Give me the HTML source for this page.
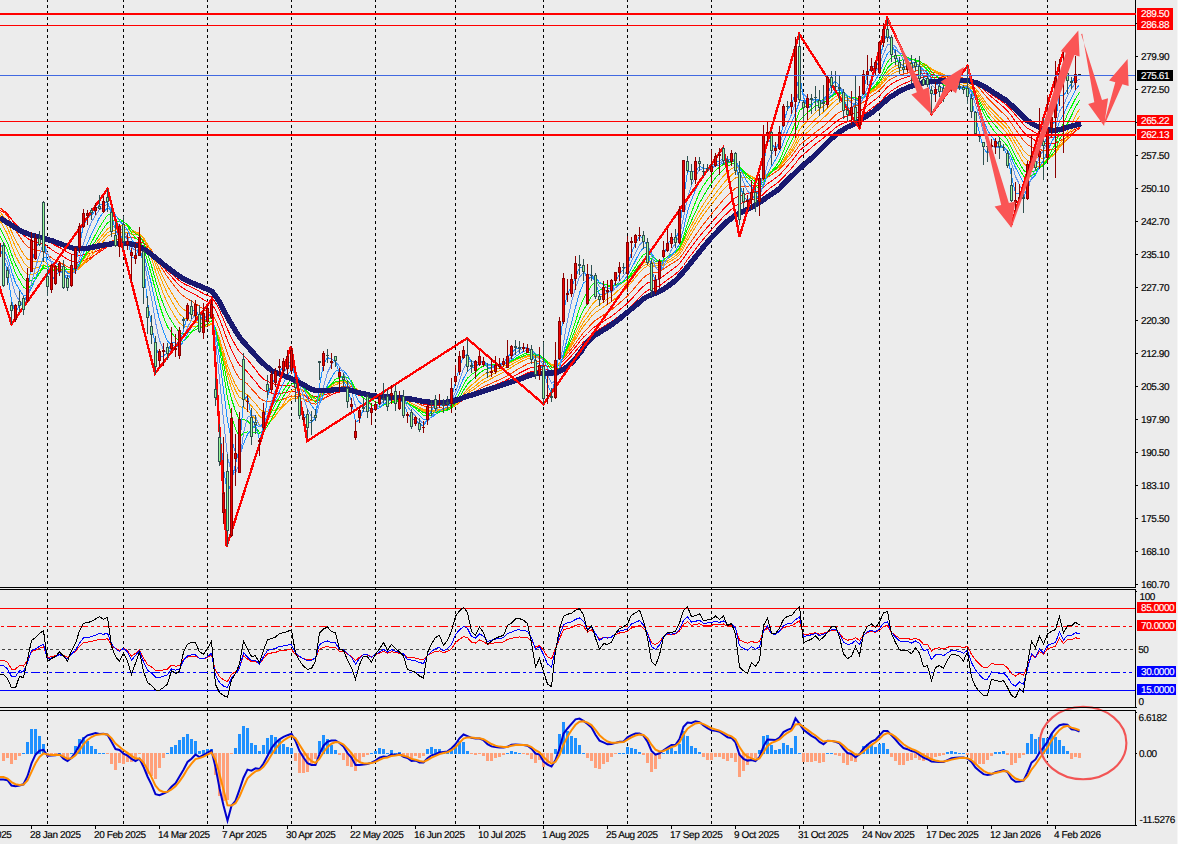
<!DOCTYPE html>
<html><head><meta charset="utf-8"><title>chart</title>
<style>
html,body{margin:0;padding:0;background:#ececec;}
body{width:1178px;height:844px;overflow:hidden;font-family:"Liberation Sans",sans-serif;}
svg{display:block;}
svg .nv{shape-rendering:crispEdges;}
svg text{font-family:"Liberation Sans",sans-serif;font-size:10px;letter-spacing:-0.42px;text-rendering:geometricPrecision;stroke-width:0.15px;}
</style></head><body>
<svg width="1178" height="844" viewBox="0 0 1178 844">
<defs>
<clipPath id="cm"><rect x="0" y="0" width="1135" height="587"/></clipPath>
<clipPath id="cr"><rect x="0" y="590" width="1135" height="117"/></clipPath>
<clipPath id="cd"><rect x="0" y="711" width="1135" height="114"/></clipPath>
</defs>
<rect x="0" y="0" width="1178" height="844" fill="#ececec"/>
<line x1="47.5" y1="-1" x2="47.5" y2="825" stroke="#000" stroke-width="1" stroke-dasharray="3 3" shape-rendering="crispEdges"/>
<line x1="123.5" y1="-1" x2="123.5" y2="825" stroke="#000" stroke-width="1" stroke-dasharray="3 3" shape-rendering="crispEdges"/>
<line x1="207.5" y1="-1" x2="207.5" y2="825" stroke="#000" stroke-width="1" stroke-dasharray="3 3" shape-rendering="crispEdges"/>
<line x1="291.5" y1="-1" x2="291.5" y2="825" stroke="#000" stroke-width="1" stroke-dasharray="3 3" shape-rendering="crispEdges"/>
<line x1="375.5" y1="-1" x2="375.5" y2="825" stroke="#000" stroke-width="1" stroke-dasharray="3 3" shape-rendering="crispEdges"/>
<line x1="455.5" y1="-1" x2="455.5" y2="825" stroke="#000" stroke-width="1" stroke-dasharray="3 3" shape-rendering="crispEdges"/>
<line x1="543.5" y1="-1" x2="543.5" y2="825" stroke="#000" stroke-width="1" stroke-dasharray="3 3" shape-rendering="crispEdges"/>
<line x1="627.5" y1="-1" x2="627.5" y2="825" stroke="#000" stroke-width="1" stroke-dasharray="3 3" shape-rendering="crispEdges"/>
<line x1="711.5" y1="-1" x2="711.5" y2="825" stroke="#000" stroke-width="1" stroke-dasharray="3 3" shape-rendering="crispEdges"/>
<line x1="803.5" y1="-1" x2="803.5" y2="825" stroke="#000" stroke-width="1" stroke-dasharray="3 3" shape-rendering="crispEdges"/>
<line x1="879.5" y1="-1" x2="879.5" y2="825" stroke="#000" stroke-width="1" stroke-dasharray="3 3" shape-rendering="crispEdges"/>
<line x1="967.5" y1="-1" x2="967.5" y2="825" stroke="#000" stroke-width="1" stroke-dasharray="3 3" shape-rendering="crispEdges"/>
<line x1="1047.5" y1="-1" x2="1047.5" y2="825" stroke="#000" stroke-width="1" stroke-dasharray="3 3" shape-rendering="crispEdges"/>
<g clip-path="url(#cm)">
<g shape-rendering="crispEdges">
<polyline points="-0.5,210.2 3.5,212.2 7.5,214.8 11.5,219.2 15.5,223.5 19.5,227.3 23.5,231.2 27.5,234.1 31.5,235.5 35.5,236.6 39.5,237.3 43.5,237.7 47.5,240.6 51.5,243.2 55.5,245.5 59.5,247.5 63.5,249.7 67.5,252.3 71.5,254.2 75.5,255.5 79.5,255.6 83.5,254.8 87.5,254.0 91.5,252.9 95.5,251.5 99.5,249.8 103.5,248.2 107.5,246.4 111.5,245.5 115.5,245.1 119.5,245.0 123.5,244.4 127.5,244.1 131.5,244.9 135.5,245.1 139.5,244.6 143.5,245.9 147.5,248.8 151.5,252.4 155.5,257.0 159.5,261.7 163.5,266.2 167.5,270.3 171.5,273.7 175.5,277.4 179.5,280.9 183.5,283.5 187.5,285.5 191.5,287.3 195.5,289.2 199.5,291.4 203.5,293.6 207.5,295.5 211.5,297.0 215.5,302.4 219.5,310.2 223.5,319.4 227.5,329.4 231.5,337.8 235.5,345.3 239.5,351.8 243.5,355.2 247.5,359.4 251.5,364.6 255.5,369.4 259.5,375.1 263.5,379.0 267.5,381.2 271.5,383.0 275.5,384.4 279.5,385.2 283.5,385.7 287.5,385.9 291.5,385.8 295.5,387.1 299.5,388.9 303.5,391.0 307.5,393.3 311.5,395.4 315.5,397.0 319.5,396.4 323.5,395.3 327.5,393.9 331.5,392.8 335.5,391.7 339.5,391.5 343.5,391.3 347.5,391.6 351.5,392.4 355.5,394.3 359.5,395.3 363.5,395.7 367.5,396.1 371.5,396.7 375.5,396.8 379.5,396.6 383.5,396.0 387.5,395.8 391.5,395.4 395.5,395.3 399.5,395.5 403.5,395.8 407.5,396.9 411.5,398.0 415.5,399.2 419.5,400.5 423.5,402.0 427.5,402.8 431.5,403.4 435.5,403.7 439.5,403.9 443.5,404.3 447.5,404.5 451.5,404.3 455.5,403.1 459.5,401.3 463.5,399.1 467.5,397.0 471.5,395.5 475.5,394.3 479.5,392.6 483.5,391.1 487.5,390.0 491.5,388.8 495.5,387.5 499.5,386.0 503.5,384.6 507.5,382.7 511.5,380.8 515.5,378.7 519.5,376.7 523.5,374.7 527.5,372.9 531.5,371.5 535.5,370.7 539.5,369.7 543.5,369.4 547.5,369.8 551.5,370.5 555.5,370.0 559.5,368.0 563.5,364.2 567.5,360.1 571.5,355.9 575.5,351.3 579.5,346.5 583.5,342.1 587.5,338.5 591.5,334.6 595.5,331.4 599.5,329.1 603.5,326.5 607.5,324.0 611.5,321.6 615.5,318.7 619.5,315.7 623.5,312.6 627.5,309.4 631.5,305.6 635.5,301.5 639.5,297.3 643.5,293.5 647.5,290.4 651.5,288.7 655.5,287.4 659.5,285.7 663.5,282.9 667.5,279.8 671.5,276.9 675.5,274.0 679.5,270.6 683.5,265.5 687.5,259.6 691.5,254.4 695.5,249.1 699.5,243.8 703.5,239.0 707.5,234.3 711.5,229.8 715.5,225.2 719.5,221.0 723.5,216.7 727.5,212.9 731.5,209.2 735.5,205.8 739.5,204.0 743.5,202.5 747.5,201.3 751.5,199.8 755.5,198.6 759.5,197.4 763.5,194.2 767.5,190.2 771.5,187.1 775.5,184.3 779.5,181.1 783.5,177.0 787.5,172.6 791.5,168.3 795.5,163.4 799.5,157.8 803.5,154.5 807.5,151.0 811.5,147.6 815.5,144.1 819.5,141.0 823.5,137.9 827.5,134.7 831.5,131.2 835.5,127.8 839.5,125.0 843.5,123.1 847.5,121.6 851.5,120.1 855.5,118.3 859.5,117.0 863.5,114.5 867.5,111.5 871.5,108.4 875.5,105.6 879.5,102.4 883.5,98.2 887.5,94.0 891.5,90.8 895.5,88.1 899.5,85.9 903.5,83.9 907.5,82.1 911.5,80.5 915.5,78.8 919.5,77.5 923.5,77.0 927.5,76.5 931.5,77.1 935.5,77.3 939.5,77.5 943.5,77.9 947.5,78.1 951.5,78.2 955.5,78.4 959.5,78.6 963.5,78.9 967.5,79.1 971.5,80.2 975.5,82.2 979.5,84.8 983.5,88.2 987.5,91.5 991.5,94.2 995.5,97.1 999.5,99.9 1003.5,102.6 1007.5,105.8 1011.5,110.2 1015.5,115.1 1019.5,119.6 1023.5,124.5 1027.5,128.2 1031.5,130.4 1035.5,132.9 1039.5,134.4 1043.5,136.2 1047.5,137.0 1051.5,137.4 1055.5,137.6 1059.5,135.9 1063.5,135.1 1067.5,133.3 1071.5,131.5 1075.5,129.2 1079.5,127.1" fill="none" stroke="#ff0000" stroke-width="1" shape-rendering="crispEdges"/>
<polyline points="-0.5,207.4 3.5,210.3 7.5,213.9 11.5,219.6 15.5,225.1 19.5,229.9 23.5,234.9 27.5,238.6 31.5,240.4 35.5,241.9 39.5,242.8 43.5,243.3 47.5,246.5 51.5,249.5 55.5,252.1 59.5,254.2 63.5,256.6 67.5,259.2 71.5,261.0 75.5,262.2 79.5,261.9 83.5,260.5 87.5,259.0 91.5,257.1 95.5,254.8 99.5,252.2 103.5,249.6 107.5,246.7 111.5,245.1 115.5,244.1 119.5,243.4 123.5,242.3 127.5,241.7 131.5,242.4 135.5,242.4 139.5,241.8 143.5,243.1 147.5,246.5 151.5,250.7 155.5,256.2 159.5,261.9 163.5,267.3 167.5,272.4 171.5,276.7 175.5,281.2 179.5,285.5 183.5,288.5 187.5,290.7 191.5,292.8 195.5,294.8 199.5,297.2 203.5,299.7 207.5,301.9 211.5,303.6 215.5,309.8 219.5,318.8 223.5,329.4 227.5,340.7 231.5,350.0 235.5,358.2 239.5,365.1 243.5,368.1 247.5,372.1 251.5,377.0 255.5,381.6 259.5,387.0 263.5,390.5 267.5,392.0 271.5,393.0 275.5,393.6 279.5,393.5 283.5,393.0 287.5,392.2 291.5,391.3 295.5,391.9 299.5,393.3 303.5,395.3 307.5,397.5 311.5,399.6 315.5,401.1 319.5,400.1 323.5,398.5 327.5,396.5 331.5,394.8 335.5,393.0 339.5,392.1 343.5,391.2 347.5,390.9 351.5,391.2 355.5,392.6 359.5,393.2 363.5,393.2 367.5,393.4 371.5,394.3 375.5,394.7 379.5,394.9 383.5,394.8 387.5,395.1 391.5,395.0 395.5,395.2 399.5,395.6 403.5,396.3 407.5,397.7 411.5,399.2 415.5,400.7 419.5,402.4 423.5,404.1 427.5,405.0 431.5,405.4 435.5,405.5 439.5,405.5 443.5,405.7 447.5,405.8 451.5,405.5 455.5,404.2 459.5,402.2 463.5,399.7 467.5,397.3 471.5,395.5 475.5,393.9 479.5,391.7 483.5,389.7 487.5,388.2 491.5,386.6 495.5,384.9 499.5,383.2 503.5,381.6 507.5,379.5 511.5,377.4 515.5,375.2 519.5,373.0 523.5,371.0 527.5,369.0 531.5,367.5 535.5,366.7 539.5,365.8 543.5,365.5 547.5,366.2 551.5,367.2 555.5,366.8 559.5,364.8 563.5,360.7 567.5,356.4 571.5,351.9 575.5,347.0 579.5,341.8 583.5,337.2 587.5,333.5 591.5,329.4 595.5,326.2 599.5,323.9 603.5,321.3 607.5,318.8 611.5,316.3 615.5,313.3 619.5,310.0 623.5,306.6 627.5,303.2 631.5,299.0 635.5,294.7 639.5,290.1 643.5,286.2 647.5,283.0 651.5,281.5 655.5,280.4 659.5,278.9 663.5,276.1 667.5,273.0 671.5,270.0 675.5,267.1 679.5,263.7 683.5,258.3 687.5,252.1 691.5,246.8 695.5,241.5 699.5,236.3 703.5,231.6 707.5,227.0 711.5,222.6 715.5,217.9 719.5,213.6 723.5,209.1 727.5,205.0 731.5,201.0 735.5,197.5 739.5,195.8 743.5,194.5 747.5,193.7 751.5,192.5 755.5,191.8 759.5,190.9 763.5,187.8 767.5,183.8 771.5,180.9 775.5,178.1 779.5,174.9 783.5,170.7 787.5,166.0 791.5,161.5 795.5,156.4 799.5,150.5 803.5,147.3 807.5,144.1 811.5,141.0 815.5,137.7 819.5,134.9 823.5,132.1 827.5,129.0 831.5,125.5 835.5,122.1 839.5,119.2 843.5,117.4 847.5,115.9 851.5,114.5 855.5,112.7 859.5,111.4 863.5,108.8 867.5,105.6 871.5,102.3 875.5,99.3 879.5,95.9 883.5,91.5 887.5,87.0 891.5,83.9 895.5,81.5 899.5,79.7 903.5,78.2 907.5,76.8 911.5,75.7 915.5,74.5 919.5,73.6 923.5,73.5 927.5,73.4 931.5,74.5 935.5,75.1 939.5,75.6 943.5,76.3 947.5,76.7 951.5,77.0 955.5,77.3 959.5,77.7 963.5,78.2 967.5,78.6 971.5,80.1 975.5,82.5 979.5,85.7 983.5,89.7 987.5,93.6 991.5,96.9 995.5,100.2 999.5,103.6 1003.5,107.0 1007.5,110.8 1011.5,115.9 1015.5,121.5 1019.5,126.7 1023.5,132.1 1027.5,136.1 1031.5,138.2 1035.5,140.6 1039.5,141.7 1043.5,143.3 1047.5,143.7 1051.5,143.6 1055.5,143.2 1059.5,140.7 1063.5,139.3 1067.5,136.8 1071.5,134.2 1075.5,131.1 1079.5,128.2" fill="none" stroke="#ff0000" stroke-width="1" shape-rendering="crispEdges"/>
<polyline points="-0.5,207.4 3.5,211.5 7.5,216.3 11.5,223.4 15.5,230.4 19.5,236.3 23.5,242.3 27.5,246.7 31.5,248.7 35.5,250.2 39.5,251.0 43.5,251.3 47.5,254.8 51.5,257.8 55.5,260.4 59.5,262.4 63.5,264.5 67.5,266.8 71.5,268.0 75.5,268.4 79.5,267.0 83.5,264.2 87.5,261.3 91.5,258.2 95.5,254.8 99.5,250.9 103.5,247.3 107.5,243.4 111.5,241.2 115.5,239.8 119.5,238.8 123.5,237.5 127.5,236.8 131.5,237.8 135.5,238.1 139.5,237.8 143.5,240.0 147.5,244.7 151.5,250.3 155.5,257.3 159.5,264.3 163.5,270.8 167.5,277.0 171.5,282.0 175.5,287.4 179.5,292.5 183.5,296.1 187.5,298.8 191.5,301.3 195.5,303.7 199.5,306.5 203.5,309.2 207.5,311.4 211.5,312.9 215.5,319.6 219.5,329.5 223.5,341.2 227.5,353.5 231.5,363.3 235.5,371.8 239.5,378.6 243.5,380.7 247.5,384.1 251.5,388.8 255.5,392.9 259.5,398.0 263.5,400.8 267.5,401.3 271.5,401.3 275.5,401.1 279.5,400.1 283.5,399.0 287.5,397.6 291.5,396.0 295.5,396.4 299.5,397.6 303.5,399.4 307.5,401.5 311.5,403.2 315.5,404.2 319.5,402.0 323.5,399.0 327.5,395.6 331.5,392.4 335.5,389.4 339.5,387.7 343.5,386.3 347.5,386.1 351.5,386.8 355.5,389.3 359.5,390.9 363.5,391.6 367.5,392.5 371.5,393.9 375.5,394.7 379.5,395.4 383.5,395.5 387.5,396.1 391.5,396.3 395.5,396.7 399.5,397.2 403.5,397.9 407.5,399.4 411.5,400.8 415.5,402.3 419.5,404.1 423.5,405.9 427.5,406.9 431.5,407.5 435.5,407.7 439.5,407.8 443.5,408.1 447.5,408.1 451.5,407.5 455.5,405.5 459.5,402.6 463.5,399.1 467.5,395.9 471.5,393.6 475.5,391.6 479.5,388.9 483.5,386.7 487.5,385.0 491.5,383.3 495.5,381.5 499.5,379.7 503.5,377.9 507.5,375.6 511.5,373.2 515.5,370.7 519.5,368.2 523.5,366.0 527.5,363.9 531.5,362.4 535.5,361.9 539.5,361.2 543.5,361.4 547.5,362.8 551.5,364.6 555.5,364.7 559.5,362.9 563.5,358.4 567.5,353.7 571.5,348.9 575.5,343.5 579.5,337.7 583.5,332.5 587.5,328.5 591.5,323.8 595.5,320.3 599.5,317.8 603.5,315.0 607.5,312.3 611.5,309.7 615.5,306.5 619.5,303.0 623.5,299.6 627.5,296.0 631.5,291.5 635.5,286.8 639.5,281.9 643.5,277.7 647.5,274.5 651.5,273.2 655.5,272.6 659.5,271.5 663.5,269.0 667.5,266.2 671.5,263.8 675.5,261.5 679.5,258.5 683.5,253.2 687.5,246.6 691.5,241.0 695.5,235.4 699.5,229.5 703.5,224.3 707.5,219.2 711.5,214.2 715.5,209.1 719.5,204.4 723.5,199.7 727.5,195.6 731.5,191.6 735.5,188.2 739.5,187.0 743.5,186.4 747.5,186.2 751.5,185.5 755.5,185.3 759.5,184.9 763.5,181.8 767.5,177.5 771.5,174.6 775.5,172.1 779.5,169.2 783.5,165.0 787.5,160.5 791.5,156.2 795.5,151.0 799.5,144.9 803.5,141.9 807.5,138.8 811.5,135.6 815.5,132.2 819.5,129.3 823.5,126.2 827.5,122.7 831.5,118.9 835.5,115.1 839.5,112.1 843.5,110.2 847.5,108.8 851.5,107.4 855.5,105.6 859.5,104.5 863.5,102.0 867.5,99.0 871.5,95.8 875.5,93.2 879.5,90.2 883.5,85.9 887.5,81.5 891.5,78.7 895.5,76.6 899.5,75.2 903.5,74.0 907.5,73.0 911.5,72.1 915.5,71.1 919.5,70.3 923.5,70.4 927.5,70.5 931.5,72.0 935.5,72.9 939.5,73.8 943.5,74.9 947.5,75.7 951.5,76.2 955.5,76.8 959.5,77.4 963.5,78.2 967.5,78.8 971.5,80.9 975.5,84.1 979.5,88.2 983.5,93.3 987.5,98.1 991.5,102.1 995.5,106.1 999.5,110.0 1003.5,113.7 1007.5,117.8 1011.5,123.4 1015.5,129.5 1019.5,134.9 1023.5,140.8 1027.5,144.8 1031.5,146.6 1035.5,148.8 1039.5,149.4 1043.5,150.6 1047.5,150.4 1051.5,149.6 1055.5,148.6 1059.5,145.0 1063.5,142.7 1067.5,139.2 1071.5,135.6 1075.5,131.4 1079.5,127.3" fill="none" stroke="#ff4500" stroke-width="1" shape-rendering="crispEdges"/>
<polyline points="-0.5,211.1 3.5,216.5 7.5,222.6 11.5,231.5 15.5,240.1 19.5,247.2 23.5,254.1 27.5,259.0 31.5,260.8 35.5,261.9 39.5,261.9 43.5,261.0 47.5,264.1 51.5,266.4 55.5,268.0 59.5,268.8 63.5,269.9 67.5,271.5 71.5,271.8 75.5,271.1 79.5,268.4 83.5,264.0 87.5,259.8 91.5,255.4 95.5,250.6 99.5,245.6 103.5,241.0 107.5,236.4 111.5,234.0 115.5,233.0 119.5,232.7 123.5,232.0 127.5,232.0 131.5,234.0 135.5,235.0 139.5,234.9 143.5,237.9 147.5,244.0 151.5,251.3 155.5,260.4 159.5,269.5 163.5,278.0 167.5,286.0 171.5,292.6 175.5,299.3 179.5,305.4 183.5,309.4 187.5,312.1 191.5,314.2 195.5,315.9 199.5,318.0 203.5,319.9 207.5,321.0 211.5,321.2 215.5,328.1 219.5,338.8 223.5,351.7 227.5,365.4 231.5,376.0 235.5,384.7 239.5,391.3 243.5,392.2 247.5,394.8 251.5,399.3 255.5,403.3 259.5,408.9 263.5,411.7 267.5,411.6 271.5,411.0 275.5,410.0 279.5,407.9 283.5,405.5 287.5,402.5 291.5,399.2 295.5,398.3 299.5,398.3 303.5,399.0 307.5,399.9 311.5,400.5 315.5,400.7 319.5,397.3 323.5,393.6 327.5,389.9 331.5,387.0 335.5,384.5 339.5,383.5 343.5,382.7 347.5,383.2 351.5,384.7 355.5,388.4 359.5,390.9 363.5,392.3 367.5,393.8 371.5,395.8 375.5,397.0 379.5,397.6 383.5,397.5 387.5,397.8 391.5,397.6 395.5,397.7 399.5,398.1 403.5,399.0 407.5,401.0 411.5,403.1 415.5,405.2 419.5,407.4 423.5,409.6 427.5,410.4 431.5,410.5 435.5,410.1 439.5,409.5 443.5,409.2 447.5,408.7 451.5,407.7 455.5,405.0 459.5,401.5 463.5,397.2 467.5,393.4 471.5,390.7 475.5,388.4 479.5,385.2 483.5,382.5 487.5,380.6 491.5,378.5 495.5,376.4 499.5,374.3 503.5,372.3 507.5,369.8 511.5,367.4 515.5,364.8 519.5,362.5 523.5,360.5 527.5,358.8 531.5,357.8 535.5,357.9 539.5,357.9 543.5,359.0 547.5,361.4 551.5,364.3 555.5,365.0 559.5,362.9 563.5,357.6 567.5,351.9 571.5,346.0 575.5,339.4 579.5,332.4 583.5,326.2 587.5,321.6 591.5,316.2 595.5,312.4 599.5,309.9 603.5,307.0 607.5,304.3 611.5,301.7 615.5,298.3 619.5,294.5 623.5,290.8 627.5,287.0 631.5,282.2 635.5,277.3 639.5,272.3 643.5,268.4 647.5,265.9 651.5,266.2 655.5,267.1 659.5,267.2 663.5,265.4 667.5,262.9 671.5,260.6 675.5,258.2 679.5,254.7 683.5,248.3 687.5,240.4 691.5,233.7 695.5,227.2 699.5,220.6 703.5,214.9 707.5,209.5 711.5,204.4 715.5,199.1 719.5,194.3 723.5,189.4 727.5,185.3 731.5,181.3 735.5,177.9 739.5,177.3 743.5,177.4 747.5,178.0 751.5,178.3 755.5,179.3 759.5,180.2 763.5,177.6 767.5,173.7 771.5,171.5 775.5,169.6 779.5,167.0 783.5,162.6 787.5,157.6 791.5,152.7 795.5,146.6 799.5,139.2 803.5,135.8 807.5,132.2 811.5,128.5 815.5,124.6 819.5,121.3 823.5,117.8 827.5,113.9 831.5,109.5 835.5,105.4 839.5,102.4 843.5,101.1 847.5,100.6 851.5,100.2 855.5,99.5 859.5,99.6 863.5,97.7 867.5,95.1 871.5,92.3 875.5,90.0 879.5,87.0 883.5,82.4 887.5,77.6 891.5,74.5 895.5,72.2 899.5,70.8 903.5,69.6 907.5,68.6 911.5,67.9 915.5,66.9 919.5,66.4 923.5,67.0 927.5,67.5 931.5,69.7 935.5,71.2 939.5,72.6 943.5,74.4 947.5,75.7 951.5,76.9 955.5,78.1 959.5,79.4 963.5,80.8 967.5,81.9 971.5,84.6 975.5,88.6 979.5,93.5 983.5,99.3 987.5,104.7 991.5,109.0 995.5,113.1 999.5,117.2 1003.5,120.9 1007.5,125.3 1011.5,131.5 1015.5,138.3 1019.5,144.2 1023.5,150.6 1027.5,154.7 1031.5,156.1 1035.5,157.9 1039.5,157.8 1043.5,158.5 1047.5,157.2 1051.5,155.3 1055.5,153.0 1059.5,147.4 1063.5,143.6 1067.5,138.1 1071.5,132.7 1075.5,126.7 1079.5,121.3" fill="none" stroke="#ff9800" stroke-width="1" shape-rendering="crispEdges"/>
<polyline points="-0.5,214.7 3.5,220.9 7.5,227.7 11.5,237.6 15.5,247.0 19.5,254.7 23.5,262.1 27.5,266.9 31.5,268.0 35.5,268.0 39.5,266.8 43.5,264.7 47.5,267.3 51.5,269.1 55.5,270.3 59.5,270.5 63.5,271.2 67.5,272.3 71.5,272.1 75.5,270.9 79.5,267.5 83.5,262.4 87.5,257.3 91.5,252.2 95.5,247.1 99.5,241.8 103.5,237.2 107.5,232.7 111.5,230.7 115.5,230.0 119.5,229.9 123.5,229.1 127.5,229.2 131.5,231.6 135.5,233.1 139.5,233.5 143.5,237.3 147.5,244.8 151.5,253.5 155.5,264.4 159.5,275.1 163.5,284.9 167.5,293.8 171.5,300.8 175.5,307.8 179.5,314.0 183.5,317.6 187.5,319.6 191.5,320.9 195.5,321.7 199.5,323.0 203.5,324.2 207.5,324.5 211.5,323.8 215.5,330.7 219.5,342.0 223.5,355.7 227.5,370.4 231.5,381.5 235.5,390.7 239.5,397.8 243.5,398.5 247.5,401.4 251.5,406.1 255.5,410.4 259.5,416.3 263.5,418.9 267.5,418.1 271.5,416.5 275.5,414.2 279.5,410.7 283.5,406.7 287.5,402.2 291.5,397.3 295.5,395.0 299.5,394.1 303.5,394.5 307.5,395.8 311.5,397.5 315.5,398.6 319.5,395.8 323.5,392.3 327.5,388.5 331.5,385.3 335.5,382.6 339.5,381.9 343.5,381.6 347.5,382.6 351.5,384.8 355.5,389.2 359.5,391.9 363.5,393.5 367.5,394.9 371.5,396.9 375.5,397.8 379.5,398.2 383.5,397.9 387.5,398.3 391.5,398.4 395.5,398.9 399.5,399.7 403.5,400.8 407.5,402.9 411.5,404.9 415.5,406.8 419.5,408.8 423.5,410.7 427.5,411.3 431.5,411.1 435.5,410.4 439.5,409.7 443.5,409.5 447.5,409.1 451.5,407.9 455.5,404.9 459.5,400.9 463.5,396.0 467.5,391.6 471.5,388.5 475.5,385.8 479.5,382.2 483.5,379.2 487.5,377.1 491.5,375.0 495.5,372.9 499.5,370.9 503.5,369.1 507.5,366.8 511.5,364.6 515.5,362.3 519.5,360.2 523.5,358.3 527.5,356.8 531.5,356.2 535.5,356.9 539.5,357.3 543.5,358.7 547.5,361.6 551.5,364.8 555.5,365.5 559.5,363.2 563.5,357.2 567.5,350.6 571.5,344.1 575.5,336.7 579.5,328.9 583.5,322.2 587.5,317.2 591.5,311.5 595.5,307.4 599.5,304.9 603.5,301.8 607.5,299.1 611.5,296.5 615.5,293.0 619.5,289.3 623.5,285.7 627.5,282.2 631.5,277.8 635.5,273.4 639.5,269.0 643.5,265.6 647.5,263.7 651.5,264.4 655.5,265.7 659.5,266.0 663.5,264.0 667.5,261.1 671.5,258.5 675.5,255.9 679.5,252.2 683.5,245.2 687.5,236.6 691.5,229.6 695.5,222.7 699.5,215.8 703.5,209.8 707.5,204.2 711.5,199.0 715.5,193.4 719.5,188.4 723.5,183.3 727.5,179.0 731.5,174.8 735.5,171.8 739.5,172.1 743.5,173.3 747.5,175.1 751.5,176.4 755.5,178.3 759.5,180.1 763.5,177.9 767.5,174.0 771.5,171.7 775.5,169.6 779.5,166.6 783.5,161.6 787.5,155.9 791.5,150.3 795.5,143.5 799.5,135.2 803.5,131.4 807.5,127.4 811.5,123.4 815.5,119.1 819.5,115.5 823.5,112.0 827.5,108.2 831.5,104.1 835.5,100.4 839.5,98.0 843.5,97.6 847.5,98.0 851.5,98.3 855.5,97.9 859.5,98.6 863.5,97.0 867.5,94.5 871.5,91.6 875.5,89.2 879.5,85.8 883.5,80.5 887.5,75.0 891.5,71.6 895.5,69.3 899.5,68.0 903.5,67.0 907.5,66.1 911.5,65.5 915.5,64.7 919.5,64.2 923.5,65.0 927.5,65.9 931.5,68.8 935.5,71.0 939.5,73.0 943.5,75.5 947.5,77.4 951.5,78.9 955.5,80.3 959.5,81.8 963.5,83.3 967.5,84.2 971.5,86.9 975.5,90.9 979.5,96.0 983.5,102.2 987.5,108.1 991.5,112.6 995.5,116.9 999.5,121.1 1003.5,124.8 1007.5,129.4 1011.5,135.9 1015.5,143.3 1019.5,149.6 1023.5,156.5 1027.5,160.7 1031.5,161.6 1035.5,163.0 1039.5,162.2 1043.5,162.1 1047.5,159.8 1051.5,156.8 1055.5,153.4 1059.5,146.4 1063.5,141.6 1067.5,135.2 1071.5,129.1 1075.5,122.3 1079.5,116.2" fill="none" stroke="#ffa500" stroke-width="1" shape-rendering="crispEdges"/>
<polyline points="-0.5,219.9 3.5,226.8 7.5,234.4 11.5,245.5 15.5,255.7 19.5,263.4 23.5,270.7 27.5,274.7 31.5,274.4 35.5,273.1 39.5,270.6 43.5,267.2 47.5,269.3 51.5,270.6 55.5,271.1 59.5,270.7 63.5,270.9 67.5,272.0 71.5,271.4 75.5,269.6 79.5,265.4 83.5,259.6 87.5,254.3 91.5,249.1 95.5,244.0 99.5,238.7 103.5,233.9 107.5,228.9 111.5,226.6 115.5,225.7 119.5,225.9 123.5,225.4 127.5,226.1 131.5,229.7 135.5,232.0 139.5,233.2 143.5,238.5 147.5,247.9 151.5,258.5 155.5,271.1 159.5,283.2 163.5,294.0 167.5,303.4 171.5,310.5 175.5,317.4 179.5,323.1 183.5,325.8 187.5,326.8 191.5,326.9 195.5,326.6 199.5,326.9 203.5,327.0 207.5,326.2 211.5,324.1 215.5,331.0 219.5,343.2 223.5,358.7 227.5,375.5 231.5,388.3 235.5,398.9 239.5,406.9 243.5,407.3 247.5,410.1 251.5,415.0 255.5,419.0 259.5,424.8 263.5,426.4 267.5,423.8 271.5,420.3 275.5,416.0 279.5,410.1 283.5,403.7 287.5,397.1 291.5,390.8 295.5,388.6 299.5,388.7 303.5,390.5 307.5,393.4 311.5,396.4 315.5,398.2 319.5,395.0 323.5,391.1 327.5,387.1 331.5,384.2 335.5,381.7 339.5,381.5 343.5,381.3 347.5,382.6 351.5,385.0 355.5,389.8 359.5,392.6 363.5,393.9 367.5,395.1 371.5,397.3 375.5,398.6 379.5,399.3 383.5,399.5 387.5,400.5 391.5,400.7 395.5,401.1 399.5,401.6 403.5,402.1 407.5,403.9 411.5,405.6 415.5,407.3 419.5,409.2 423.5,411.3 427.5,411.9 431.5,411.9 435.5,411.2 439.5,410.4 443.5,410.2 447.5,409.6 451.5,408.3 455.5,404.6 459.5,399.8 463.5,394.0 467.5,388.8 471.5,385.1 475.5,382.0 479.5,378.1 483.5,374.9 487.5,373.0 491.5,371.1 495.5,369.4 499.5,367.8 503.5,366.4 507.5,364.4 511.5,362.4 515.5,360.2 519.5,358.4 523.5,356.9 527.5,355.8 531.5,355.3 535.5,356.2 539.5,356.7 543.5,358.3 547.5,361.7 551.5,365.5 555.5,366.4 559.5,363.7 563.5,356.7 567.5,349.3 571.5,341.9 575.5,333.5 579.5,324.7 583.5,317.1 587.5,311.6 591.5,305.3 595.5,300.8 599.5,298.3 603.5,295.3 607.5,292.9 611.5,290.6 615.5,287.6 619.5,284.6 623.5,282.0 627.5,279.5 631.5,275.7 635.5,271.6 639.5,267.0 643.5,263.4 647.5,261.4 651.5,262.3 655.5,263.8 659.5,264.2 663.5,261.9 667.5,258.8 671.5,256.2 675.5,253.6 679.5,249.9 683.5,242.3 687.5,232.9 691.5,225.4 695.5,218.0 699.5,210.5 703.5,204.1 707.5,198.0 711.5,192.2 715.5,186.2 719.5,180.9 723.5,175.8 727.5,172.0 731.5,168.7 735.5,166.6 739.5,168.2 743.5,170.8 747.5,174.0 751.5,176.6 755.5,179.6 759.5,181.9 763.5,179.3 767.5,174.7 771.5,172.0 775.5,169.5 779.5,165.9 783.5,160.1 787.5,153.5 791.5,147.0 795.5,139.0 799.5,129.4 803.5,125.1 807.5,120.7 811.5,116.5 815.5,112.3 819.5,109.3 823.5,106.3 827.5,103.3 831.5,99.9 835.5,96.8 839.5,94.9 843.5,95.2 847.5,96.3 851.5,97.4 855.5,97.6 859.5,98.8 863.5,97.2 867.5,94.2 871.5,90.7 875.5,87.8 879.5,84.0 883.5,78.0 887.5,71.9 891.5,68.3 895.5,66.0 899.5,64.9 903.5,63.9 907.5,63.0 911.5,62.6 915.5,61.9 919.5,61.9 923.5,63.5 927.5,65.2 931.5,69.3 935.5,72.4 939.5,75.1 943.5,78.1 947.5,80.3 951.5,81.9 955.5,83.3 959.5,84.3 963.5,85.5 967.5,86.0 971.5,88.6 975.5,93.0 979.5,98.6 983.5,105.4 987.5,111.7 991.5,116.4 995.5,120.9 999.5,125.2 1003.5,129.2 1007.5,134.1 1011.5,141.3 1015.5,149.3 1019.5,156.0 1023.5,163.2 1027.5,167.2 1031.5,167.2 1035.5,167.7 1039.5,165.6 1043.5,164.4 1047.5,160.8 1051.5,156.6 1055.5,152.3 1059.5,144.0 1063.5,138.3 1067.5,130.8 1071.5,123.7 1075.5,115.8 1079.5,108.9" fill="none" stroke="#ffa500" stroke-width="1" shape-rendering="crispEdges"/>
<polyline points="-0.5,227.2 3.5,234.7 7.5,242.6 11.5,254.2 15.5,264.5 19.5,271.8 23.5,278.7 27.5,282.0 31.5,280.2 35.5,277.4 39.5,273.1 43.5,267.7 47.5,269.3 51.5,270.1 55.5,270.3 59.5,269.3 63.5,269.1 67.5,270.0 71.5,269.5 75.5,268.1 79.5,264.0 83.5,258.1 87.5,252.6 91.5,247.0 95.5,241.0 99.5,234.5 103.5,228.5 107.5,222.7 111.5,220.6 115.5,220.6 119.5,221.7 123.5,222.1 127.5,224.2 131.5,229.6 135.5,233.6 139.5,235.7 143.5,242.4 147.5,253.5 151.5,265.6 155.5,280.0 159.5,293.3 163.5,304.8 167.5,314.3 171.5,320.9 175.5,327.3 179.5,332.5 183.5,334.0 187.5,333.2 191.5,331.7 195.5,329.6 199.5,328.1 203.5,326.5 207.5,324.2 211.5,321.1 215.5,329.4 219.5,344.5 223.5,363.4 227.5,383.8 231.5,398.9 235.5,411.1 239.5,419.9 243.5,419.2 247.5,421.0 251.5,425.0 255.5,427.7 259.5,432.3 263.5,431.7 267.5,426.1 271.5,419.1 275.5,411.6 279.5,403.5 283.5,396.3 287.5,389.8 291.5,384.1 295.5,383.4 299.5,385.1 303.5,388.1 307.5,391.9 311.5,395.7 315.5,398.4 319.5,395.5 323.5,391.8 327.5,387.6 331.5,384.4 335.5,381.4 339.5,380.9 343.5,380.4 347.5,381.4 351.5,383.7 355.5,389.1 359.5,392.3 363.5,394.1 367.5,396.2 371.5,399.5 375.5,401.8 379.5,403.0 383.5,402.9 387.5,403.4 391.5,402.7 395.5,402.2 399.5,401.8 403.5,401.8 407.5,403.5 411.5,405.3 415.5,407.4 419.5,410.0 423.5,412.6 427.5,413.4 431.5,413.3 435.5,412.5 439.5,411.5 443.5,411.1 447.5,410.1 451.5,408.1 455.5,403.4 459.5,397.4 463.5,390.3 467.5,384.2 471.5,380.2 475.5,377.1 479.5,373.1 483.5,370.3 487.5,369.0 491.5,367.7 495.5,366.4 499.5,365.3 503.5,364.4 507.5,362.8 511.5,361.3 515.5,359.4 519.5,357.6 523.5,356.0 527.5,354.5 531.5,353.9 535.5,355.2 539.5,355.9 543.5,358.0 547.5,362.2 551.5,366.9 555.5,368.1 559.5,365.0 563.5,356.7 567.5,347.9 571.5,339.0 575.5,329.0 579.5,318.7 583.5,309.8 587.5,303.6 591.5,296.5 595.5,292.1 599.5,290.2 603.5,288.0 607.5,286.8 611.5,286.2 615.5,284.9 619.5,283.2 623.5,281.4 627.5,279.1 631.5,274.9 635.5,270.0 639.5,264.5 643.5,260.1 647.5,257.7 651.5,259.0 655.5,261.2 659.5,262.1 663.5,260.0 667.5,257.0 671.5,254.6 675.5,252.3 679.5,248.4 683.5,239.8 687.5,229.1 691.5,220.6 695.5,212.1 699.5,203.3 703.5,196.0 707.5,189.3 711.5,183.4 715.5,177.8 719.5,173.4 723.5,169.2 727.5,166.4 731.5,164.0 735.5,163.1 739.5,166.6 743.5,170.9 747.5,175.3 751.5,178.5 755.5,182.0 759.5,184.7 763.5,181.4 767.5,175.6 771.5,172.2 775.5,169.1 779.5,164.6 783.5,157.3 787.5,149.2 791.5,141.3 795.5,131.7 799.5,120.7 803.5,116.5 807.5,112.7 811.5,109.3 815.5,106.0 819.5,104.3 823.5,102.4 827.5,99.9 831.5,96.7 835.5,94.0 839.5,92.9 843.5,94.1 847.5,96.1 851.5,97.7 855.5,98.1 859.5,99.2 863.5,97.0 867.5,93.4 871.5,89.5 875.5,86.3 879.5,82.0 883.5,75.1 887.5,68.2 891.5,64.1 895.5,61.6 899.5,60.4 903.5,59.7 907.5,59.4 911.5,59.8 915.5,60.0 919.5,61.1 923.5,63.9 927.5,66.5 931.5,71.7 935.5,75.5 939.5,78.7 943.5,81.8 947.5,83.7 951.5,84.7 955.5,85.6 959.5,86.3 963.5,87.2 967.5,87.4 971.5,90.2 975.5,94.9 979.5,101.1 983.5,108.7 987.5,115.7 991.5,120.9 995.5,125.9 999.5,130.6 1003.5,134.7 1007.5,139.9 1011.5,147.7 1015.5,156.2 1019.5,163.0 1023.5,170.1 1027.5,173.2 1031.5,171.6 1035.5,170.9 1039.5,167.3 1043.5,165.3 1047.5,160.6 1051.5,155.3 1055.5,149.7 1059.5,139.5 1063.5,132.5 1067.5,123.5 1071.5,115.5 1075.5,107.1 1079.5,100.3" fill="none" stroke="#00ee00" stroke-width="1" shape-rendering="crispEdges"/>
<polyline points="-0.5,235.6 3.5,242.5 7.5,250.0 11.5,262.2 15.5,273.1 19.5,280.5 23.5,287.2 27.5,289.3 31.5,285.0 35.5,279.6 39.5,272.9 43.5,265.5 47.5,266.7 51.5,266.9 55.5,266.5 59.5,265.7 63.5,266.5 67.5,269.1 71.5,270.0 75.5,269.4 79.5,265.0 83.5,257.5 87.5,250.1 91.5,242.3 95.5,234.7 99.5,227.2 103.5,221.0 107.5,215.1 111.5,214.0 115.5,215.8 119.5,219.2 123.5,221.6 127.5,225.6 131.5,233.1 135.5,238.0 139.5,240.3 143.5,248.0 147.5,260.9 151.5,274.5 155.5,290.4 159.5,304.9 163.5,316.9 167.5,326.7 171.5,332.4 175.5,337.8 179.5,341.7 183.5,340.9 187.5,337.0 191.5,332.1 195.5,327.4 199.5,324.5 203.5,322.5 207.5,320.2 211.5,317.4 215.5,328.9 219.5,348.6 223.5,372.5 227.5,397.7 231.5,415.6 235.5,429.0 239.5,437.2 243.5,433.0 247.5,431.8 251.5,433.1 255.5,432.5 259.5,433.9 263.5,429.4 267.5,420.2 271.5,411.7 275.5,404.3 279.5,396.8 283.5,390.3 287.5,384.4 291.5,378.3 295.5,378.1 299.5,380.7 303.5,385.5 307.5,392.0 311.5,398.2 315.5,402.7 319.5,399.2 323.5,394.2 327.5,388.5 331.5,383.7 335.5,379.1 339.5,377.6 343.5,376.3 347.5,377.6 351.5,381.1 355.5,389.0 359.5,394.3 363.5,397.9 367.5,401.2 371.5,405.1 375.5,406.8 379.5,406.8 383.5,405.1 387.5,404.3 391.5,402.4 395.5,400.9 399.5,400.1 403.5,400.3 407.5,403.0 411.5,405.7 415.5,408.5 419.5,411.8 423.5,415.2 427.5,416.1 431.5,415.6 435.5,414.1 439.5,412.2 443.5,411.1 447.5,409.3 451.5,406.4 455.5,400.4 459.5,393.1 463.5,384.8 467.5,378.1 471.5,374.5 475.5,372.0 479.5,368.2 483.5,365.8 487.5,365.3 491.5,364.9 495.5,364.5 499.5,364.4 503.5,364.4 507.5,362.9 511.5,361.0 515.5,358.5 519.5,356.1 523.5,354.2 527.5,352.6 531.5,352.1 535.5,354.0 539.5,355.3 543.5,358.3 547.5,363.9 551.5,370.0 555.5,371.4 559.5,367.2 563.5,356.4 567.5,345.1 571.5,333.8 575.5,321.3 579.5,308.7 583.5,298.5 587.5,292.1 591.5,285.2 595.5,282.2 599.5,283.1 603.5,283.8 607.5,285.3 611.5,286.5 615.5,285.8 619.5,284.1 623.5,281.8 627.5,278.7 631.5,272.9 635.5,266.7 639.5,259.8 643.5,254.7 647.5,252.4 651.5,255.1 655.5,259.1 659.5,261.3 663.5,259.7 667.5,256.8 671.5,254.4 675.5,252.0 679.5,247.5 683.5,236.8 687.5,223.2 691.5,212.5 695.5,202.2 699.5,192.4 703.5,185.5 707.5,179.8 711.5,175.1 715.5,170.4 719.5,167.3 723.5,164.3 727.5,163.2 731.5,162.0 735.5,161.9 739.5,166.7 743.5,172.2 747.5,177.8 751.5,181.6 755.5,185.8 759.5,188.8 763.5,184.1 767.5,176.3 771.5,171.4 775.5,166.9 779.5,160.7 783.5,151.2 787.5,141.2 791.5,132.3 795.5,122.1 799.5,110.4 803.5,107.8 807.5,105.8 811.5,103.9 815.5,101.5 819.5,100.6 823.5,99.7 827.5,98.2 831.5,95.5 835.5,92.9 839.5,92.1 843.5,93.8 847.5,95.9 851.5,97.6 855.5,98.0 859.5,99.8 863.5,97.3 867.5,93.0 871.5,88.4 875.5,84.6 879.5,79.3 883.5,70.6 887.5,62.0 891.5,57.4 895.5,55.3 899.5,55.3 903.5,56.0 907.5,57.3 911.5,59.2 915.5,60.5 919.5,62.4 923.5,66.3 927.5,69.7 931.5,75.8 935.5,79.5 939.5,82.3 943.5,85.1 947.5,86.6 951.5,87.3 955.5,87.7 959.5,88.0 963.5,88.5 967.5,87.9 971.5,90.8 975.5,96.2 979.5,103.6 983.5,112.9 987.5,121.3 991.5,127.3 995.5,132.7 999.5,137.5 1003.5,141.4 1007.5,146.2 1011.5,154.2 1015.5,162.7 1019.5,169.0 1023.5,176.0 1027.5,178.3 1031.5,175.2 1035.5,173.6 1039.5,168.4 1043.5,165.1 1047.5,158.4 1051.5,151.1 1055.5,143.7 1059.5,131.1 1063.5,123.6 1067.5,114.1 1071.5,106.5 1075.5,98.6 1079.5,92.4" fill="none" stroke="#00ff00" stroke-width="1" shape-rendering="crispEdges"/>
<polyline points="-0.5,242.4 3.5,249.0 7.5,256.9 11.5,271.1 15.5,283.0 19.5,289.6 23.5,295.6 27.5,295.8 31.5,288.0 35.5,278.7 39.5,267.9 43.5,256.7 47.5,259.0 51.5,261.3 55.5,263.5 59.5,265.1 63.5,268.5 67.5,273.2 71.5,274.0 75.5,271.8 79.5,263.7 83.5,252.7 87.5,243.0 91.5,234.1 95.5,225.7 99.5,217.6 103.5,212.2 107.5,207.7 111.5,209.8 115.5,214.9 119.5,221.0 123.5,224.8 127.5,230.0 131.5,239.4 135.5,244.7 139.5,245.9 143.5,253.8 147.5,268.6 151.5,284.4 155.5,303.3 159.5,319.6 163.5,331.9 167.5,341.1 171.5,344.6 175.5,346.8 179.5,346.8 183.5,341.5 187.5,334.0 191.5,327.0 195.5,321.5 199.5,319.2 203.5,318.3 207.5,316.8 211.5,314.6 215.5,331.7 219.5,358.7 223.5,389.8 227.5,420.5 231.5,439.8 235.5,452.2 239.5,456.7 243.5,443.9 247.5,434.3 251.5,429.5 255.5,424.9 259.5,426.7 263.5,423.3 267.5,414.8 271.5,407.1 275.5,400.3 279.5,391.4 283.5,383.1 287.5,375.6 291.5,369.4 295.5,372.4 299.5,379.2 303.5,388.1 307.5,397.6 311.5,405.7 315.5,410.5 319.5,404.1 323.5,395.3 327.5,385.4 331.5,377.5 335.5,371.1 339.5,370.2 343.5,370.7 347.5,375.3 351.5,383.0 355.5,395.3 359.5,402.3 363.5,405.3 367.5,407.4 371.5,410.0 375.5,409.9 379.5,407.9 383.5,404.0 387.5,402.1 391.5,399.8 395.5,398.8 399.5,398.6 403.5,399.4 407.5,403.5 411.5,407.5 415.5,411.4 419.5,415.4 423.5,419.3 427.5,419.3 431.5,417.5 435.5,414.3 439.5,410.8 443.5,408.9 447.5,406.6 451.5,403.2 455.5,396.1 459.5,387.7 463.5,378.4 467.5,371.3 471.5,368.0 475.5,366.3 479.5,363.2 483.5,362.1 487.5,363.8 491.5,365.0 495.5,365.4 499.5,365.3 503.5,364.7 507.5,362.3 511.5,359.8 515.5,356.6 519.5,353.7 523.5,351.5 527.5,350.0 531.5,350.3 535.5,353.6 539.5,356.0 543.5,360.5 547.5,368.0 551.5,375.5 555.5,376.3 559.5,369.3 563.5,353.6 567.5,337.7 571.5,322.9 575.5,307.4 579.5,292.9 583.5,283.0 587.5,279.8 591.5,276.4 595.5,277.7 599.5,282.4 603.5,285.1 607.5,287.9 611.5,289.5 615.5,287.9 619.5,284.4 623.5,280.6 627.5,275.9 631.5,268.2 635.5,260.6 639.5,252.7 643.5,247.9 647.5,247.1 651.5,252.8 655.5,259.7 659.5,263.8 663.5,262.3 667.5,258.7 671.5,255.2 675.5,251.0 679.5,243.8 683.5,228.8 687.5,211.6 691.5,199.9 695.5,190.1 699.5,181.0 703.5,175.3 707.5,171.1 711.5,168.6 715.5,166.3 719.5,165.0 723.5,162.6 727.5,161.8 731.5,160.6 735.5,160.8 739.5,167.7 743.5,175.1 747.5,182.5 751.5,187.0 755.5,191.7 759.5,194.2 763.5,186.3 767.5,174.1 771.5,166.2 775.5,159.8 779.5,152.4 783.5,141.8 787.5,131.2 791.5,122.7 795.5,113.1 799.5,101.1 803.5,100.4 807.5,99.8 811.5,99.5 815.5,99.0 819.5,100.0 823.5,100.1 827.5,98.8 831.5,95.3 835.5,91.1 839.5,89.6 843.5,92.0 847.5,95.6 851.5,98.5 855.5,99.4 859.5,102.1 863.5,98.7 867.5,92.6 871.5,85.7 875.5,80.1 879.5,73.2 883.5,62.8 887.5,53.3 891.5,49.8 895.5,49.8 899.5,52.4 903.5,55.3 907.5,58.1 911.5,61.6 915.5,63.7 919.5,66.0 923.5,69.8 927.5,72.7 931.5,79.3 935.5,83.2 939.5,86.0 943.5,88.8 947.5,89.9 951.5,89.6 955.5,88.8 959.5,88.2 963.5,87.9 967.5,87.1 971.5,91.1 975.5,98.5 979.5,108.4 983.5,120.2 987.5,130.2 991.5,136.3 995.5,141.2 999.5,145.0 1003.5,146.9 1007.5,150.3 1011.5,158.3 1015.5,167.7 1019.5,174.8 1023.5,183.0 1027.5,184.8 1031.5,178.9 1035.5,174.9 1039.5,166.2 1043.5,160.3 1047.5,151.0 1051.5,142.3 1055.5,134.7 1059.5,121.1 1063.5,114.8 1067.5,105.4 1071.5,98.0 1075.5,89.9 1079.5,84.6" fill="none" stroke="#1e90ff" stroke-width="1" shape-rendering="crispEdges"/>
<polyline points="-0.5,249.3 3.5,255.6 7.5,262.9 11.5,280.5 15.5,294.4 19.5,301.0 23.5,305.1 27.5,299.6 31.5,282.5 35.5,267.6 39.5,254.2 43.5,242.8 47.5,253.4 51.5,262.7 55.5,269.2 59.5,271.6 63.5,274.1 67.5,276.5 71.5,274.6 75.5,270.0 79.5,258.8 83.5,243.3 87.5,231.2 91.5,222.1 95.5,215.2 99.5,209.6 103.5,207.0 107.5,204.0 111.5,209.4 115.5,218.2 119.5,227.4 123.5,231.6 127.5,236.8 131.5,247.0 135.5,250.7 139.5,249.0 143.5,259.0 147.5,278.7 151.5,298.4 155.5,322.2 159.5,340.3 163.5,349.7 167.5,352.8 171.5,349.0 175.5,346.8 179.5,344.7 183.5,336.9 187.5,327.5 191.5,319.9 195.5,314.3 199.5,314.0 203.5,316.2 207.5,316.8 211.5,314.9 215.5,340.4 219.5,378.3 223.5,419.5 227.5,456.6 231.5,472.3 235.5,473.0 239.5,463.3 243.5,432.9 247.5,417.1 251.5,415.3 255.5,416.1 259.5,426.6 263.5,426.8 267.5,414.4 271.5,401.5 275.5,390.2 279.5,378.9 283.5,372.2 287.5,367.7 291.5,364.1 295.5,372.1 299.5,383.9 303.5,397.1 307.5,409.3 311.5,417.2 315.5,418.3 319.5,403.1 323.5,386.8 327.5,372.6 331.5,364.5 335.5,360.9 339.5,366.8 343.5,372.5 347.5,381.1 351.5,391.1 355.5,406.4 359.5,412.1 363.5,412.0 367.5,410.6 371.5,411.1 375.5,408.4 379.5,405.4 383.5,401.0 387.5,399.8 391.5,397.0 395.5,396.8 399.5,397.9 403.5,400.2 407.5,406.4 411.5,411.8 415.5,416.2 419.5,420.3 423.5,423.6 427.5,421.0 431.5,416.6 435.5,411.1 439.5,406.3 443.5,404.9 447.5,403.6 451.5,400.8 455.5,391.9 459.5,380.9 463.5,368.9 467.5,361.4 471.5,360.8 475.5,363.1 479.5,362.2 483.5,362.8 487.5,365.4 491.5,366.1 495.5,365.9 499.5,365.5 503.5,364.5 507.5,360.7 511.5,357.1 515.5,353.2 519.5,350.2 523.5,348.5 527.5,348.1 531.5,350.0 535.5,355.9 539.5,359.3 543.5,365.1 547.5,374.6 551.5,383.2 555.5,380.9 559.5,367.6 563.5,342.6 567.5,319.9 571.5,302.3 575.5,287.7 579.5,276.9 583.5,272.7 587.5,275.3 591.5,274.4 595.5,278.7 599.5,286.7 603.5,289.8 607.5,291.6 611.5,292.2 615.5,287.7 619.5,281.3 623.5,275.8 627.5,270.3 631.5,261.2 635.5,253.0 639.5,244.8 643.5,241.3 647.5,243.4 651.5,255.1 655.5,266.9 659.5,272.2 663.5,266.8 667.5,257.8 671.5,249.6 675.5,243.2 679.5,235.3 683.5,217.8 687.5,197.4 691.5,185.3 695.5,176.3 699.5,169.5 703.5,168.7 707.5,168.5 711.5,167.6 715.5,164.9 719.5,163.6 723.5,160.6 727.5,160.0 731.5,159.1 735.5,160.5 739.5,171.4 743.5,182.0 747.5,191.2 751.5,195.1 755.5,198.0 759.5,197.2 763.5,182.1 767.5,163.3 771.5,154.4 775.5,148.9 779.5,143.2 783.5,133.8 787.5,123.6 791.5,114.5 795.5,102.8 799.5,88.9 803.5,93.9 807.5,97.8 811.5,100.5 815.5,101.4 819.5,103.0 823.5,100.9 827.5,97.3 831.5,91.7 835.5,87.0 839.5,86.2 843.5,91.5 847.5,98.3 851.5,103.2 855.5,103.6 859.5,105.4 863.5,97.6 867.5,87.2 871.5,77.8 875.5,72.1 879.5,65.1 883.5,54.0 887.5,44.5 891.5,43.6 895.5,46.8 899.5,53.3 903.5,59.7 907.5,63.9 911.5,66.6 915.5,66.5 919.5,67.2 923.5,71.8 927.5,75.2 931.5,84.4 935.5,88.7 939.5,90.7 943.5,92.4 947.5,91.5 951.5,88.9 955.5,87.5 959.5,86.7 963.5,87.1 967.5,86.5 971.5,93.1 975.5,104.0 979.5,117.4 983.5,132.3 987.5,143.1 991.5,146.3 995.5,147.5 999.5,147.9 1003.5,147.5 1007.5,151.2 1011.5,163.1 1015.5,176.4 1019.5,184.6 1023.5,193.2 1027.5,190.9 1031.5,177.1 1035.5,168.6 1039.5,155.9 1043.5,150.4 1047.5,141.6 1051.5,134.4 1055.5,127.7 1059.5,111.2 1063.5,105.2 1067.5,95.7 1071.5,89.3 1075.5,82.1 1079.5,79.1" fill="none" stroke="#6495ed" stroke-width="1" shape-rendering="crispEdges"/>
<polyline points="-0.5,248.3 3.5,256.8 7.5,272.1 11.5,300.6 15.5,313.2 19.5,305.3 23.5,304.3 27.5,292.1 31.5,263.4 35.5,248.9 39.5,241.2 43.5,233.8 47.5,265.6 51.5,279.7 55.5,276.1 59.5,270.7 63.5,272.6 67.5,280.3 71.5,274.5 75.5,263.7 79.5,245.3 83.5,225.0 87.5,218.1 91.5,215.1 95.5,210.5 99.5,204.7 103.5,203.9 107.5,201.8 111.5,215.0 115.5,230.2 119.5,238.4 123.5,235.4 127.5,238.8 131.5,257.2 135.5,257.5 139.5,245.8 143.5,265.2 147.5,302.2 151.5,324.7 155.5,346.4 159.5,357.0 163.5,355.9 167.5,352.8 171.5,342.9 175.5,342.9 179.5,343.9 183.5,329.9 187.5,315.9 191.5,310.4 195.5,309.9 199.5,315.9 203.5,320.4 207.5,317.9 211.5,311.8 215.5,364.3 219.5,427.3 223.5,468.5 227.5,493.4 231.5,481.5 235.5,464.1 239.5,448.3 243.5,400.7 247.5,395.6 251.5,418.8 255.5,425.3 259.5,439.4 263.5,426.8 267.5,396.6 271.5,383.2 275.5,378.9 279.5,371.0 283.5,366.6 287.5,363.6 291.5,361.0 295.5,380.5 299.5,400.1 303.5,412.6 307.5,421.2 311.5,423.0 315.5,417.6 319.5,385.6 323.5,364.2 327.5,357.6 331.5,359.3 335.5,361.5 339.5,373.9 343.5,380.6 347.5,389.5 351.5,401.5 355.5,421.9 359.5,420.1 363.5,408.3 367.5,405.5 371.5,411.1 375.5,408.4 379.5,401.9 383.5,395.3 387.5,397.6 391.5,396.1 395.5,396.6 399.5,399.6 403.5,402.8 407.5,413.2 411.5,418.7 415.5,420.3 419.5,423.6 423.5,426.4 427.5,418.5 431.5,410.1 435.5,404.4 439.5,401.5 443.5,404.4 447.5,403.9 451.5,397.9 455.5,381.9 459.5,367.1 463.5,356.0 467.5,354.2 471.5,362.8 475.5,368.4 479.5,362.2 483.5,361.0 487.5,367.6 491.5,368.4 495.5,365.8 499.5,364.0 503.5,363.0 507.5,357.0 511.5,352.7 515.5,349.0 519.5,347.3 523.5,347.4 527.5,348.1 531.5,352.3 535.5,362.5 539.5,364.3 543.5,369.9 547.5,384.3 551.5,393.3 555.5,378.8 559.5,349.3 563.5,311.9 567.5,293.2 571.5,287.3 575.5,277.2 579.5,267.6 583.5,268.4 587.5,279.7 591.5,276.8 595.5,281.6 599.5,295.1 603.5,294.5 607.5,292.4 611.5,291.0 615.5,282.5 619.5,273.9 623.5,269.5 627.5,265.3 631.5,252.8 635.5,243.2 639.5,236.4 643.5,238.1 647.5,247.9 651.5,269.3 655.5,282.1 659.5,277.1 663.5,257.6 667.5,243.3 671.5,240.5 675.5,239.2 679.5,229.3 683.5,199.0 687.5,172.0 691.5,171.4 695.5,172.0 699.5,166.2 703.5,167.9 707.5,168.6 711.5,167.1 715.5,162.2 719.5,161.2 723.5,157.9 727.5,159.3 731.5,159.1 735.5,161.8 739.5,183.1 743.5,196.4 747.5,200.9 751.5,197.2 755.5,197.6 759.5,196.4 763.5,166.7 767.5,139.1 771.5,142.8 775.5,148.6 779.5,141.8 783.5,123.3 787.5,109.3 791.5,104.8 795.5,93.0 799.5,74.9 803.5,97.1 807.5,108.7 811.5,105.0 815.5,100.2 819.5,101.4 823.5,99.9 827.5,93.7 831.5,85.1 835.5,81.1 839.5,86.0 843.5,99.0 847.5,107.8 851.5,108.4 855.5,102.1 859.5,104.7 863.5,90.7 867.5,74.1 871.5,66.7 875.5,66.9 879.5,61.0 883.5,42.7 887.5,32.1 891.5,42.6 895.5,54.6 899.5,62.9 903.5,66.1 907.5,66.4 911.5,68.2 915.5,66.1 919.5,67.3 923.5,76.7 927.5,80.4 931.5,93.6 935.5,94.6 939.5,90.9 943.5,92.5 947.5,90.3 951.5,86.3 955.5,85.4 959.5,86.1 963.5,88.2 967.5,86.4 971.5,99.0 975.5,117.6 979.5,133.1 983.5,148.1 987.5,153.4 991.5,147.3 995.5,145.4 999.5,147.5 1003.5,147.9 1007.5,155.5 1011.5,176.3 1015.5,193.0 1019.5,193.6 1023.5,198.7 1027.5,187.4 1031.5,159.9 1035.5,155.8 1039.5,145.2 1043.5,145.5 1047.5,135.7 1051.5,125.3 1055.5,120.8 1059.5,94.8 1063.5,96.0 1067.5,89.6 1071.5,83.0 1075.5,76.1 1079.5,74.5" fill="none" stroke="#1e90ff" stroke-width="1" shape-rendering="crispEdges"/>
</g>
<polyline points="0.0,218.0 10.7,224.7 21.3,231.3 32.0,235.3 42.7,238.0 53.3,241.2 64.0,245.2 74.7,248.7 85.3,248.7 96.0,246.5 106.7,244.4 117.3,243.3 128.0,243.3 138.7,246.0 149.3,252.7 160.0,261.5 170.7,270.0 181.3,277.5 192.0,282.8 202.7,287.3 212.0,291.3 218.7,300.7 229.3,320.7 240.0,338.0 250.7,350.0 261.3,362.0 272.0,370.8 282.7,375.3 290.0,378.0 300.7,383.3 311.3,389.2 316.7,390.8 327.3,390.5 338.0,389.5 348.7,390.0 359.3,392.7 370.0,395.3 380.7,396.7 391.3,397.2 402.0,398.0 412.7,399.3 423.3,401.5 434.0,402.5 444.7,402.5 455.3,400.7 466.0,396.7 476.7,393.5 487.3,390.0 498.0,386.5 508.7,382.8 519.3,379.3 530.0,375.3 538.0,373.2 546.0,373.2 556.7,372.7 564.7,368.7 572.7,362.0 580.7,352.0 586.4,343.1 592.8,336.7 601.3,331.4 609.9,326.0 618.4,319.7 626.9,312.6 635.4,305.8 644.0,298.3 650.4,295.1 658.9,291.9 667.4,286.6 676.0,280.2 684.5,270.6 693.0,260.0 701.5,249.3 710.0,239.3 718.6,230.1 727.1,221.6 735.6,215.2 744.2,210.9 752.7,206.7 761.2,201.3 769.8,195.3 778.5,189.3 787.0,180.7 795.6,172.2 804.0,164.7 812.6,157.3 821.2,148.7 829.7,140.2 838.2,132.8 846.8,127.4 855.3,123.2 863.8,117.8 872.3,112.5 880.9,105.0 889.4,97.6 898.0,92.2 906.5,88.0 915.0,84.8 923.5,82.6 932.0,81.6 940.6,81.0 949.0,80.5 957.6,80.5 968.0,80.6 976.9,82.9 984.0,86.4 991.0,90.9 998.2,95.3 1005.3,99.8 1012.4,106.0 1019.6,113.0 1026.7,120.2 1033.8,124.7 1040.9,128.2 1048.0,130.0 1055.0,130.4 1062.0,129.0 1069.3,126.8 1076.4,125.0 1081.0,123.6" fill="none" stroke="#191970" stroke-width="5.3" stroke-linejoin="round" class="nv"/>
<polyline points="-6.0,270.0 11.5,324.0 107.5,189.0 155.0,373.5 211.5,299.8 226.7,546.4 291.0,346.0 307.2,441.0 467.0,338.3 543.5,404.0 723.2,147.6 739.5,237.0 799.2,34.0 859.5,128.2 887.2,18.0 931.5,114.0 967.5,66.0 1011.0,226.0" fill="none" stroke="#ff0000" stroke-width="2.3" class="nv"/>
<polyline points="1011.0,226.0 1063.3,52.0" fill="none" stroke="#ff0000" stroke-width="2.2" class="nv"/>
<g shape-rendering="crispEdges">
<rect x="3" y="242" width="1" height="45" fill="#2f4f4f"/>
<rect x="2" y="245" width="3" height="41" fill="#2f4f4f"/>
<rect x="3" y="246" width="1" height="39" fill="#98fb98"/>
<rect x="7" y="267" width="1" height="18" fill="#2f4f4f"/>
<rect x="6" y="270" width="3" height="8" fill="#2f4f4f"/>
<rect x="7" y="271" width="1" height="6" fill="#98fb98"/>
<rect x="11" y="302" width="1" height="22" fill="#2f4f4f"/>
<rect x="10" y="305" width="3" height="6" fill="#2f4f4f"/>
<rect x="11" y="306" width="1" height="4" fill="#98fb98"/>
<rect x="15" y="304" width="1" height="18" fill="#8b0000"/>
<rect x="14" y="305" width="3" height="15" fill="#8b0000"/>
<rect x="15" y="306" width="1" height="13" fill="#f00000"/>
<rect x="19" y="291" width="1" height="21" fill="#2f4f4f"/>
<rect x="18" y="301" width="3" height="5" fill="#2f4f4f"/>
<rect x="19" y="302" width="1" height="3" fill="#98fb98"/>
<rect x="23" y="296" width="1" height="19" fill="#2f4f4f"/>
<rect x="22" y="298" width="3" height="12" fill="#2f4f4f"/>
<rect x="23" y="299" width="1" height="10" fill="#98fb98"/>
<rect x="27" y="268" width="1" height="35" fill="#8b0000"/>
<rect x="26" y="278" width="3" height="23" fill="#8b0000"/>
<rect x="27" y="279" width="1" height="21" fill="#f00000"/>
<rect x="31" y="232" width="1" height="40" fill="#8b0000"/>
<rect x="30" y="240" width="3" height="32" fill="#8b0000"/>
<rect x="31" y="241" width="1" height="30" fill="#f00000"/>
<rect x="35" y="234" width="1" height="26" fill="#8b0000"/>
<rect x="34" y="238" width="3" height="21" fill="#8b0000"/>
<rect x="35" y="239" width="1" height="19" fill="#f00000"/>
<rect x="39" y="231" width="1" height="15" fill="#2f4f4f"/>
<rect x="38" y="238" width="3" height="7" fill="#2f4f4f"/>
<rect x="39" y="239" width="1" height="5" fill="#98fb98"/>
<rect x="43" y="201" width="1" height="61" fill="#2f4f4f"/>
<rect x="42" y="202" width="3" height="50" fill="#2f4f4f"/>
<rect x="43" y="203" width="1" height="48" fill="#98fb98"/>
<rect x="47" y="269" width="1" height="27" fill="#2f4f4f"/>
<rect x="46" y="276" width="3" height="11" fill="#2f4f4f"/>
<rect x="47" y="277" width="1" height="9" fill="#98fb98"/>
<rect x="51" y="264" width="1" height="29" fill="#8b0000"/>
<rect x="50" y="265" width="3" height="25" fill="#8b0000"/>
<rect x="51" y="266" width="1" height="23" fill="#f00000"/>
<rect x="55" y="265" width="1" height="20" fill="#8b0000"/>
<rect x="54" y="266" width="3" height="18" fill="#8b0000"/>
<rect x="55" y="267" width="1" height="16" fill="#f00000"/>
<rect x="59" y="261" width="1" height="15" fill="#8b0000"/>
<rect x="58" y="263" width="3" height="9" fill="#8b0000"/>
<rect x="59" y="264" width="1" height="7" fill="#f00000"/>
<rect x="63" y="260" width="1" height="29" fill="#2f4f4f"/>
<rect x="62" y="266" width="3" height="22" fill="#2f4f4f"/>
<rect x="63" y="267" width="1" height="20" fill="#98fb98"/>
<rect x="67" y="275" width="1" height="16" fill="#2f4f4f"/>
<rect x="66" y="278" width="3" height="10" fill="#2f4f4f"/>
<rect x="67" y="279" width="1" height="8" fill="#98fb98"/>
<rect x="71" y="254" width="1" height="33" fill="#8b0000"/>
<rect x="70" y="265" width="3" height="21" fill="#8b0000"/>
<rect x="71" y="266" width="1" height="19" fill="#f00000"/>
<rect x="75" y="247" width="1" height="27" fill="#8b0000"/>
<rect x="74" y="248" width="3" height="21" fill="#8b0000"/>
<rect x="75" y="249" width="1" height="19" fill="#f00000"/>
<rect x="79" y="223" width="1" height="30" fill="#8b0000"/>
<rect x="78" y="226" width="3" height="22" fill="#8b0000"/>
<rect x="79" y="227" width="1" height="20" fill="#f00000"/>
<rect x="83" y="209" width="1" height="19" fill="#8b0000"/>
<rect x="82" y="213" width="3" height="14" fill="#8b0000"/>
<rect x="83" y="214" width="1" height="12" fill="#f00000"/>
<rect x="87" y="210" width="1" height="15" fill="#8b0000"/>
<rect x="86" y="213" width="3" height="3" fill="#8b0000"/>
<rect x="87" y="214" width="1" height="1" fill="#f00000"/>
<rect x="91" y="208" width="1" height="12" fill="#2f4f4f"/>
<rect x="90" y="210" width="3" height="3" fill="#2f4f4f"/>
<rect x="91" y="211" width="1" height="1" fill="#98fb98"/>
<rect x="95" y="203" width="1" height="12" fill="#8b0000"/>
<rect x="94" y="207" width="3" height="4" fill="#8b0000"/>
<rect x="95" y="208" width="1" height="2" fill="#f00000"/>
<rect x="99" y="195" width="1" height="15" fill="#2f4f4f"/>
<rect x="98" y="206" width="3" height="3" fill="#2f4f4f"/>
<rect x="99" y="207" width="1" height="1" fill="#98fb98"/>
<rect x="103" y="196" width="1" height="17" fill="#8b0000"/>
<rect x="102" y="201" width="3" height="11" fill="#8b0000"/>
<rect x="103" y="202" width="1" height="9" fill="#f00000"/>
<rect x="107" y="189" width="1" height="23" fill="#2f4f4f"/>
<rect x="106" y="197" width="3" height="5" fill="#2f4f4f"/>
<rect x="107" y="198" width="1" height="3" fill="#98fb98"/>
<rect x="111" y="208" width="1" height="29" fill="#2f4f4f"/>
<rect x="110" y="212" width="3" height="20" fill="#2f4f4f"/>
<rect x="111" y="213" width="1" height="18" fill="#98fb98"/>
<rect x="115" y="222" width="1" height="25" fill="#2f4f4f"/>
<rect x="114" y="235" width="3" height="11" fill="#2f4f4f"/>
<rect x="115" y="236" width="1" height="9" fill="#98fb98"/>
<rect x="119" y="224" width="1" height="33" fill="#8b0000"/>
<rect x="118" y="226" width="3" height="21" fill="#8b0000"/>
<rect x="119" y="227" width="1" height="19" fill="#f00000"/>
<rect x="123" y="216" width="1" height="34" fill="#2f4f4f"/>
<rect x="122" y="224" width="3" height="18" fill="#2f4f4f"/>
<rect x="123" y="225" width="1" height="16" fill="#98fb98"/>
<rect x="127" y="233" width="1" height="17" fill="#8b0000"/>
<rect x="126" y="241" width="3" height="4" fill="#8b0000"/>
<rect x="127" y="242" width="1" height="2" fill="#f00000"/>
<rect x="131" y="248" width="1" height="33" fill="#8b0000"/>
<rect x="130" y="252" width="3" height="4" fill="#8b0000"/>
<rect x="131" y="253" width="1" height="2" fill="#f00000"/>
<rect x="135" y="244" width="1" height="20" fill="#8b0000"/>
<rect x="134" y="255" width="3" height="4" fill="#8b0000"/>
<rect x="135" y="256" width="1" height="2" fill="#f00000"/>
<rect x="139" y="227" width="1" height="29" fill="#8b0000"/>
<rect x="138" y="237" width="3" height="19" fill="#8b0000"/>
<rect x="139" y="238" width="1" height="17" fill="#f00000"/>
<rect x="143" y="250" width="1" height="54" fill="#2f4f4f"/>
<rect x="142" y="251" width="3" height="37" fill="#2f4f4f"/>
<rect x="143" y="252" width="1" height="35" fill="#98fb98"/>
<rect x="147" y="296" width="1" height="38" fill="#2f4f4f"/>
<rect x="146" y="307" width="3" height="11" fill="#2f4f4f"/>
<rect x="147" y="308" width="1" height="9" fill="#98fb98"/>
<rect x="151" y="315" width="1" height="29" fill="#2f4f4f"/>
<rect x="150" y="326" width="3" height="9" fill="#2f4f4f"/>
<rect x="151" y="327" width="1" height="7" fill="#98fb98"/>
<rect x="155" y="336" width="1" height="38" fill="#2f4f4f"/>
<rect x="154" y="342" width="3" height="25" fill="#2f4f4f"/>
<rect x="155" y="343" width="1" height="23" fill="#98fb98"/>
<rect x="159" y="349" width="1" height="18" fill="#8b0000"/>
<rect x="158" y="351" width="3" height="10" fill="#8b0000"/>
<rect x="159" y="352" width="1" height="8" fill="#f00000"/>
<rect x="163" y="343" width="1" height="23" fill="#8b0000"/>
<rect x="162" y="350" width="3" height="2" fill="#8b0000"/>
<rect x="167" y="343" width="1" height="17" fill="#2f4f4f"/>
<rect x="166" y="347" width="3" height="7" fill="#2f4f4f"/>
<rect x="167" y="348" width="1" height="5" fill="#98fb98"/>
<rect x="171" y="327" width="1" height="23" fill="#8b0000"/>
<rect x="170" y="343" width="3" height="6" fill="#8b0000"/>
<rect x="171" y="344" width="1" height="4" fill="#f00000"/>
<rect x="175" y="334" width="1" height="23" fill="#8b0000"/>
<rect x="174" y="348" width="3" height="2" fill="#8b0000"/>
<rect x="179" y="327" width="1" height="32" fill="#8b0000"/>
<rect x="178" y="330" width="3" height="26" fill="#8b0000"/>
<rect x="179" y="331" width="1" height="24" fill="#f00000"/>
<rect x="183" y="317" width="1" height="12" fill="#2f4f4f"/>
<rect x="182" y="319" width="3" height="2" fill="#2f4f4f"/>
<rect x="187" y="303" width="1" height="18" fill="#8b0000"/>
<rect x="186" y="305" width="3" height="14" fill="#8b0000"/>
<rect x="187" y="306" width="1" height="12" fill="#f00000"/>
<rect x="191" y="300" width="1" height="19" fill="#2f4f4f"/>
<rect x="190" y="306" width="3" height="9" fill="#2f4f4f"/>
<rect x="191" y="307" width="1" height="7" fill="#98fb98"/>
<rect x="195" y="300" width="1" height="20" fill="#8b0000"/>
<rect x="194" y="304" width="3" height="12" fill="#8b0000"/>
<rect x="195" y="305" width="1" height="10" fill="#f00000"/>
<rect x="199" y="305" width="1" height="28" fill="#2f4f4f"/>
<rect x="198" y="314" width="3" height="18" fill="#2f4f4f"/>
<rect x="199" y="315" width="1" height="16" fill="#98fb98"/>
<rect x="203" y="303" width="1" height="36" fill="#8b0000"/>
<rect x="202" y="313" width="3" height="20" fill="#8b0000"/>
<rect x="203" y="314" width="1" height="18" fill="#f00000"/>
<rect x="207" y="305" width="1" height="22" fill="#8b0000"/>
<rect x="206" y="308" width="3" height="14" fill="#8b0000"/>
<rect x="207" y="309" width="1" height="12" fill="#f00000"/>
<rect x="211" y="300" width="1" height="19" fill="#8b0000"/>
<rect x="210" y="304" width="3" height="14" fill="#8b0000"/>
<rect x="211" y="305" width="1" height="12" fill="#f00000"/>
<rect x="215" y="378" width="1" height="28" fill="#2f4f4f"/>
<rect x="214" y="389" width="3" height="9" fill="#2f4f4f"/>
<rect x="215" y="390" width="1" height="7" fill="#98fb98"/>
<rect x="219" y="424" width="1" height="42" fill="#2f4f4f"/>
<rect x="218" y="437" width="3" height="25" fill="#2f4f4f"/>
<rect x="219" y="438" width="1" height="23" fill="#98fb98"/>
<rect x="223" y="437" width="1" height="87" fill="#8b0000"/>
<rect x="222" y="493" width="3" height="20" fill="#8b0000"/>
<rect x="223" y="494" width="1" height="18" fill="#f00000"/>
<rect x="227" y="454" width="1" height="92" fill="#2f4f4f"/>
<rect x="226" y="471" width="3" height="60" fill="#2f4f4f"/>
<rect x="227" y="472" width="1" height="58" fill="#98fb98"/>
<rect x="231" y="408" width="1" height="129" fill="#8b0000"/>
<rect x="230" y="418" width="3" height="118" fill="#8b0000"/>
<rect x="231" y="419" width="1" height="116" fill="#f00000"/>
<rect x="235" y="434" width="1" height="52" fill="#8b0000"/>
<rect x="234" y="453" width="3" height="6" fill="#8b0000"/>
<rect x="235" y="454" width="1" height="4" fill="#f00000"/>
<rect x="239" y="412" width="1" height="61" fill="#8b0000"/>
<rect x="238" y="419" width="3" height="54" fill="#8b0000"/>
<rect x="239" y="420" width="1" height="52" fill="#f00000"/>
<rect x="243" y="353" width="1" height="54" fill="#2f4f4f"/>
<rect x="242" y="359" width="3" height="41" fill="#2f4f4f"/>
<rect x="243" y="360" width="1" height="39" fill="#98fb98"/>
<rect x="247" y="395" width="1" height="17" fill="#8b0000"/>
<rect x="246" y="401" width="3" height="1" fill="#8b0000"/>
<rect x="251" y="408" width="1" height="37" fill="#2f4f4f"/>
<rect x="250" y="417" width="3" height="20" fill="#2f4f4f"/>
<rect x="251" y="418" width="1" height="18" fill="#98fb98"/>
<rect x="255" y="415" width="1" height="19" fill="#2f4f4f"/>
<rect x="254" y="422" width="3" height="3" fill="#2f4f4f"/>
<rect x="255" y="423" width="1" height="1" fill="#98fb98"/>
<rect x="259" y="438" width="1" height="18" fill="#8b0000"/>
<rect x="258" y="440" width="3" height="2" fill="#8b0000"/>
<rect x="263" y="403" width="1" height="27" fill="#8b0000"/>
<rect x="262" y="412" width="3" height="16" fill="#8b0000"/>
<rect x="263" y="413" width="1" height="14" fill="#f00000"/>
<rect x="267" y="375" width="1" height="23" fill="#2f4f4f"/>
<rect x="266" y="384" width="3" height="7" fill="#2f4f4f"/>
<rect x="267" y="385" width="1" height="5" fill="#98fb98"/>
<rect x="271" y="371" width="1" height="21" fill="#8b0000"/>
<rect x="270" y="374" width="3" height="16" fill="#8b0000"/>
<rect x="271" y="375" width="1" height="14" fill="#f00000"/>
<rect x="275" y="368" width="1" height="19" fill="#8b0000"/>
<rect x="274" y="371" width="3" height="12" fill="#8b0000"/>
<rect x="275" y="372" width="1" height="10" fill="#f00000"/>
<rect x="279" y="359" width="1" height="17" fill="#8b0000"/>
<rect x="278" y="366" width="3" height="2" fill="#8b0000"/>
<rect x="283" y="358" width="1" height="16" fill="#8b0000"/>
<rect x="282" y="361" width="3" height="10" fill="#8b0000"/>
<rect x="283" y="362" width="1" height="8" fill="#f00000"/>
<rect x="287" y="350" width="1" height="24" fill="#8b0000"/>
<rect x="286" y="356" width="3" height="13" fill="#8b0000"/>
<rect x="287" y="357" width="1" height="11" fill="#f00000"/>
<rect x="291" y="346" width="1" height="28" fill="#8b0000"/>
<rect x="290" y="350" width="3" height="21" fill="#8b0000"/>
<rect x="291" y="351" width="1" height="19" fill="#f00000"/>
<rect x="295" y="380" width="1" height="22" fill="#2f4f4f"/>
<rect x="294" y="383" width="3" height="5" fill="#2f4f4f"/>
<rect x="295" y="384" width="1" height="3" fill="#98fb98"/>
<rect x="299" y="391" width="1" height="28" fill="#2f4f4f"/>
<rect x="298" y="396" width="3" height="20" fill="#2f4f4f"/>
<rect x="299" y="397" width="1" height="18" fill="#98fb98"/>
<rect x="303" y="411" width="1" height="11" fill="#8b0000"/>
<rect x="302" y="417" width="3" height="3" fill="#8b0000"/>
<rect x="303" y="418" width="1" height="1" fill="#f00000"/>
<rect x="307" y="409" width="1" height="29" fill="#2f4f4f"/>
<rect x="306" y="414" width="3" height="14" fill="#2f4f4f"/>
<rect x="307" y="415" width="1" height="12" fill="#98fb98"/>
<rect x="311" y="411" width="1" height="24" fill="#2f4f4f"/>
<rect x="310" y="420" width="3" height="1" fill="#2f4f4f"/>
<rect x="315" y="409" width="1" height="12" fill="#2f4f4f"/>
<rect x="314" y="415" width="3" height="3" fill="#2f4f4f"/>
<rect x="315" y="416" width="1" height="1" fill="#98fb98"/>
<rect x="319" y="361" width="1" height="19" fill="#2f4f4f"/>
<rect x="318" y="361" width="3" height="2" fill="#2f4f4f"/>
<rect x="323" y="351" width="1" height="20" fill="#8b0000"/>
<rect x="322" y="353" width="3" height="13" fill="#8b0000"/>
<rect x="323" y="354" width="1" height="11" fill="#f00000"/>
<rect x="327" y="349" width="1" height="14" fill="#2f4f4f"/>
<rect x="326" y="355" width="3" height="1" fill="#2f4f4f"/>
<rect x="331" y="353" width="1" height="16" fill="#8b0000"/>
<rect x="330" y="361" width="3" height="2" fill="#8b0000"/>
<rect x="335" y="356" width="1" height="11" fill="#2f4f4f"/>
<rect x="334" y="356" width="3" height="5" fill="#2f4f4f"/>
<rect x="335" y="357" width="1" height="3" fill="#98fb98"/>
<rect x="339" y="368" width="1" height="24" fill="#8b0000"/>
<rect x="338" y="372" width="3" height="5" fill="#8b0000"/>
<rect x="339" y="373" width="1" height="3" fill="#f00000"/>
<rect x="343" y="373" width="1" height="15" fill="#2f4f4f"/>
<rect x="342" y="377" width="3" height="3" fill="#2f4f4f"/>
<rect x="343" y="378" width="1" height="1" fill="#98fb98"/>
<rect x="347" y="380" width="1" height="28" fill="#2f4f4f"/>
<rect x="346" y="388" width="3" height="14" fill="#2f4f4f"/>
<rect x="347" y="389" width="1" height="12" fill="#98fb98"/>
<rect x="351" y="398" width="1" height="14" fill="#8b0000"/>
<rect x="350" y="404" width="3" height="3" fill="#8b0000"/>
<rect x="351" y="405" width="1" height="1" fill="#f00000"/>
<rect x="355" y="420" width="1" height="20" fill="#8b0000"/>
<rect x="354" y="431" width="3" height="7" fill="#8b0000"/>
<rect x="355" y="432" width="1" height="5" fill="#f00000"/>
<rect x="359" y="407" width="1" height="16" fill="#8b0000"/>
<rect x="358" y="410" width="3" height="8" fill="#8b0000"/>
<rect x="359" y="411" width="1" height="6" fill="#f00000"/>
<rect x="363" y="398" width="1" height="14" fill="#2f4f4f"/>
<rect x="362" y="407" width="3" height="2" fill="#2f4f4f"/>
<rect x="367" y="394" width="1" height="24" fill="#2f4f4f"/>
<rect x="366" y="396" width="3" height="16" fill="#2f4f4f"/>
<rect x="367" y="397" width="1" height="14" fill="#98fb98"/>
<rect x="371" y="403" width="1" height="22" fill="#8b0000"/>
<rect x="370" y="408" width="3" height="5" fill="#8b0000"/>
<rect x="371" y="409" width="1" height="3" fill="#f00000"/>
<rect x="375" y="401" width="1" height="10" fill="#8b0000"/>
<rect x="374" y="404" width="3" height="6" fill="#8b0000"/>
<rect x="375" y="405" width="1" height="4" fill="#f00000"/>
<rect x="379" y="395" width="1" height="10" fill="#8b0000"/>
<rect x="378" y="396" width="3" height="8" fill="#8b0000"/>
<rect x="379" y="397" width="1" height="6" fill="#f00000"/>
<rect x="383" y="383" width="1" height="20" fill="#2f4f4f"/>
<rect x="382" y="398" width="3" height="2" fill="#2f4f4f"/>
<rect x="387" y="389" width="1" height="22" fill="#2f4f4f"/>
<rect x="386" y="396" width="3" height="11" fill="#2f4f4f"/>
<rect x="387" y="397" width="1" height="9" fill="#98fb98"/>
<rect x="391" y="385" width="1" height="19" fill="#8b0000"/>
<rect x="390" y="393" width="3" height="3" fill="#8b0000"/>
<rect x="391" y="394" width="1" height="1" fill="#f00000"/>
<rect x="395" y="385" width="1" height="26" fill="#2f4f4f"/>
<rect x="394" y="391" width="3" height="13" fill="#2f4f4f"/>
<rect x="395" y="392" width="1" height="11" fill="#98fb98"/>
<rect x="399" y="391" width="1" height="19" fill="#8b0000"/>
<rect x="398" y="398" width="3" height="11" fill="#8b0000"/>
<rect x="399" y="399" width="1" height="9" fill="#f00000"/>
<rect x="403" y="390" width="1" height="28" fill="#2f4f4f"/>
<rect x="402" y="396" width="3" height="20" fill="#2f4f4f"/>
<rect x="403" y="397" width="1" height="18" fill="#98fb98"/>
<rect x="407" y="412" width="1" height="11" fill="#8b0000"/>
<rect x="406" y="414" width="3" height="2" fill="#8b0000"/>
<rect x="411" y="409" width="1" height="20" fill="#2f4f4f"/>
<rect x="410" y="412" width="3" height="15" fill="#2f4f4f"/>
<rect x="411" y="413" width="1" height="13" fill="#98fb98"/>
<rect x="415" y="416" width="1" height="10" fill="#8b0000"/>
<rect x="414" y="417" width="3" height="7" fill="#8b0000"/>
<rect x="415" y="418" width="1" height="5" fill="#f00000"/>
<rect x="419" y="418" width="1" height="14" fill="#2f4f4f"/>
<rect x="418" y="423" width="3" height="7" fill="#2f4f4f"/>
<rect x="419" y="424" width="1" height="5" fill="#98fb98"/>
<rect x="423" y="421" width="1" height="12" fill="#8b0000"/>
<rect x="422" y="427" width="3" height="1" fill="#8b0000"/>
<rect x="427" y="404" width="1" height="21" fill="#8b0000"/>
<rect x="426" y="406" width="3" height="14" fill="#8b0000"/>
<rect x="427" y="407" width="1" height="12" fill="#f00000"/>
<rect x="431" y="400" width="1" height="16" fill="#2f4f4f"/>
<rect x="430" y="403" width="3" height="1" fill="#2f4f4f"/>
<rect x="435" y="395" width="1" height="16" fill="#2f4f4f"/>
<rect x="434" y="399" width="3" height="10" fill="#2f4f4f"/>
<rect x="435" y="400" width="1" height="8" fill="#98fb98"/>
<rect x="439" y="394" width="1" height="14" fill="#8b0000"/>
<rect x="438" y="403" width="3" height="1" fill="#8b0000"/>
<rect x="443" y="399" width="1" height="14" fill="#2f4f4f"/>
<rect x="442" y="404" width="3" height="2" fill="#2f4f4f"/>
<rect x="447" y="396" width="1" height="14" fill="#2f4f4f"/>
<rect x="446" y="402" width="3" height="2" fill="#2f4f4f"/>
<rect x="451" y="378" width="1" height="35" fill="#8b0000"/>
<rect x="450" y="388" width="3" height="16" fill="#8b0000"/>
<rect x="451" y="389" width="1" height="14" fill="#f00000"/>
<rect x="455" y="365" width="1" height="20" fill="#8b0000"/>
<rect x="454" y="376" width="3" height="6" fill="#8b0000"/>
<rect x="455" y="377" width="1" height="4" fill="#f00000"/>
<rect x="459" y="351" width="1" height="24" fill="#8b0000"/>
<rect x="458" y="356" width="3" height="16" fill="#8b0000"/>
<rect x="459" y="357" width="1" height="14" fill="#f00000"/>
<rect x="463" y="346" width="1" height="13" fill="#8b0000"/>
<rect x="462" y="350" width="3" height="8" fill="#8b0000"/>
<rect x="463" y="351" width="1" height="6" fill="#f00000"/>
<rect x="467" y="339" width="1" height="33" fill="#2f4f4f"/>
<rect x="466" y="355" width="3" height="12" fill="#2f4f4f"/>
<rect x="467" y="356" width="1" height="10" fill="#98fb98"/>
<rect x="471" y="360" width="1" height="13" fill="#2f4f4f"/>
<rect x="470" y="365" width="3" height="2" fill="#2f4f4f"/>
<rect x="475" y="360" width="1" height="19" fill="#8b0000"/>
<rect x="474" y="361" width="3" height="10" fill="#8b0000"/>
<rect x="475" y="362" width="1" height="8" fill="#f00000"/>
<rect x="479" y="351" width="1" height="15" fill="#8b0000"/>
<rect x="478" y="356" width="3" height="9" fill="#8b0000"/>
<rect x="479" y="357" width="1" height="7" fill="#f00000"/>
<rect x="483" y="357" width="1" height="10" fill="#8b0000"/>
<rect x="482" y="361" width="3" height="4" fill="#8b0000"/>
<rect x="483" y="362" width="1" height="2" fill="#f00000"/>
<rect x="487" y="363" width="1" height="15" fill="#2f4f4f"/>
<rect x="486" y="372" width="3" height="1" fill="#2f4f4f"/>
<rect x="491" y="358" width="1" height="19" fill="#8b0000"/>
<rect x="490" y="371" width="3" height="2" fill="#8b0000"/>
<rect x="495" y="356" width="1" height="18" fill="#8b0000"/>
<rect x="494" y="365" width="3" height="7" fill="#8b0000"/>
<rect x="495" y="366" width="1" height="5" fill="#f00000"/>
<rect x="499" y="358" width="1" height="11" fill="#8b0000"/>
<rect x="498" y="364" width="3" height="3" fill="#8b0000"/>
<rect x="499" y="365" width="1" height="1" fill="#f00000"/>
<rect x="503" y="358" width="1" height="9" fill="#8b0000"/>
<rect x="502" y="361" width="3" height="4" fill="#8b0000"/>
<rect x="503" y="362" width="1" height="2" fill="#f00000"/>
<rect x="507" y="340" width="1" height="28" fill="#8b0000"/>
<rect x="506" y="356" width="3" height="12" fill="#8b0000"/>
<rect x="507" y="357" width="1" height="10" fill="#f00000"/>
<rect x="511" y="345" width="1" height="14" fill="#8b0000"/>
<rect x="510" y="346" width="3" height="10" fill="#8b0000"/>
<rect x="511" y="347" width="1" height="8" fill="#f00000"/>
<rect x="515" y="340" width="1" height="15" fill="#2f4f4f"/>
<rect x="514" y="346" width="3" height="2" fill="#2f4f4f"/>
<rect x="519" y="341" width="1" height="12" fill="#2f4f4f"/>
<rect x="518" y="347" width="3" height="2" fill="#2f4f4f"/>
<rect x="523" y="343" width="1" height="9" fill="#8b0000"/>
<rect x="522" y="347" width="3" height="2" fill="#8b0000"/>
<rect x="527" y="344" width="1" height="9" fill="#8b0000"/>
<rect x="526" y="348" width="3" height="5" fill="#8b0000"/>
<rect x="527" y="349" width="1" height="3" fill="#f00000"/>
<rect x="531" y="345" width="1" height="19" fill="#2f4f4f"/>
<rect x="530" y="349" width="3" height="11" fill="#2f4f4f"/>
<rect x="531" y="350" width="1" height="9" fill="#98fb98"/>
<rect x="535" y="355" width="1" height="24" fill="#2f4f4f"/>
<rect x="534" y="360" width="3" height="15" fill="#2f4f4f"/>
<rect x="535" y="361" width="1" height="13" fill="#98fb98"/>
<rect x="539" y="347" width="1" height="33" fill="#8b0000"/>
<rect x="538" y="365" width="3" height="10" fill="#8b0000"/>
<rect x="539" y="366" width="1" height="8" fill="#f00000"/>
<rect x="543" y="342" width="1" height="62" fill="#2f4f4f"/>
<rect x="542" y="366" width="3" height="33" fill="#2f4f4f"/>
<rect x="543" y="367" width="1" height="31" fill="#98fb98"/>
<rect x="547" y="376" width="1" height="28" fill="#8b0000"/>
<rect x="546" y="395" width="3" height="1" fill="#8b0000"/>
<rect x="551" y="388" width="1" height="14" fill="#2f4f4f"/>
<rect x="550" y="396" width="3" height="2" fill="#2f4f4f"/>
<rect x="555" y="342" width="1" height="57" fill="#8b0000"/>
<rect x="554" y="360" width="3" height="38" fill="#8b0000"/>
<rect x="555" y="361" width="1" height="36" fill="#f00000"/>
<rect x="559" y="317" width="1" height="43" fill="#8b0000"/>
<rect x="558" y="321" width="3" height="38" fill="#8b0000"/>
<rect x="559" y="322" width="1" height="36" fill="#f00000"/>
<rect x="563" y="273" width="1" height="51" fill="#8b0000"/>
<rect x="562" y="278" width="3" height="44" fill="#8b0000"/>
<rect x="563" y="279" width="1" height="42" fill="#f00000"/>
<rect x="567" y="279" width="1" height="23" fill="#8b0000"/>
<rect x="566" y="293" width="3" height="2" fill="#8b0000"/>
<rect x="571" y="274" width="1" height="23" fill="#8b0000"/>
<rect x="570" y="279" width="3" height="15" fill="#8b0000"/>
<rect x="571" y="280" width="1" height="13" fill="#f00000"/>
<rect x="575" y="256" width="1" height="34" fill="#8b0000"/>
<rect x="574" y="263" width="3" height="16" fill="#8b0000"/>
<rect x="575" y="264" width="1" height="14" fill="#f00000"/>
<rect x="579" y="255" width="1" height="20" fill="#2f4f4f"/>
<rect x="578" y="264" width="3" height="2" fill="#2f4f4f"/>
<rect x="583" y="259" width="1" height="22" fill="#2f4f4f"/>
<rect x="582" y="265" width="3" height="7" fill="#2f4f4f"/>
<rect x="583" y="266" width="1" height="5" fill="#98fb98"/>
<rect x="587" y="264" width="1" height="41" fill="#8b0000"/>
<rect x="586" y="274" width="3" height="30" fill="#8b0000"/>
<rect x="587" y="275" width="1" height="28" fill="#f00000"/>
<rect x="591" y="265" width="1" height="16" fill="#2f4f4f"/>
<rect x="590" y="275" width="3" height="1" fill="#2f4f4f"/>
<rect x="595" y="273" width="1" height="26" fill="#2f4f4f"/>
<rect x="594" y="275" width="3" height="22" fill="#2f4f4f"/>
<rect x="595" y="276" width="1" height="20" fill="#98fb98"/>
<rect x="599" y="294" width="1" height="12" fill="#2f4f4f"/>
<rect x="598" y="296" width="3" height="4" fill="#2f4f4f"/>
<rect x="599" y="297" width="1" height="2" fill="#98fb98"/>
<rect x="603" y="281" width="1" height="22" fill="#8b0000"/>
<rect x="602" y="287" width="3" height="13" fill="#8b0000"/>
<rect x="603" y="288" width="1" height="11" fill="#f00000"/>
<rect x="607" y="280" width="1" height="25" fill="#8b0000"/>
<rect x="606" y="290" width="3" height="2" fill="#8b0000"/>
<rect x="611" y="279" width="1" height="23" fill="#8b0000"/>
<rect x="610" y="280" width="3" height="11" fill="#8b0000"/>
<rect x="611" y="281" width="1" height="9" fill="#f00000"/>
<rect x="615" y="272" width="1" height="13" fill="#8b0000"/>
<rect x="614" y="272" width="3" height="9" fill="#8b0000"/>
<rect x="615" y="273" width="1" height="7" fill="#f00000"/>
<rect x="619" y="262" width="1" height="19" fill="#8b0000"/>
<rect x="618" y="267" width="3" height="6" fill="#8b0000"/>
<rect x="619" y="268" width="1" height="4" fill="#f00000"/>
<rect x="623" y="263" width="1" height="11" fill="#2f4f4f"/>
<rect x="622" y="267" width="3" height="1" fill="#2f4f4f"/>
<rect x="627" y="236" width="1" height="56" fill="#8b0000"/>
<rect x="626" y="242" width="3" height="32" fill="#8b0000"/>
<rect x="627" y="243" width="1" height="30" fill="#f00000"/>
<rect x="631" y="237" width="1" height="21" fill="#8b0000"/>
<rect x="630" y="241" width="3" height="2" fill="#8b0000"/>
<rect x="635" y="234" width="1" height="14" fill="#8b0000"/>
<rect x="634" y="235" width="3" height="8" fill="#8b0000"/>
<rect x="635" y="236" width="1" height="6" fill="#f00000"/>
<rect x="639" y="227" width="1" height="14" fill="#8b0000"/>
<rect x="638" y="235" width="3" height="1" fill="#8b0000"/>
<rect x="643" y="231" width="1" height="18" fill="#2f4f4f"/>
<rect x="642" y="235" width="3" height="7" fill="#2f4f4f"/>
<rect x="643" y="236" width="1" height="5" fill="#98fb98"/>
<rect x="647" y="238" width="1" height="27" fill="#2f4f4f"/>
<rect x="646" y="242" width="3" height="21" fill="#2f4f4f"/>
<rect x="647" y="243" width="1" height="19" fill="#98fb98"/>
<rect x="651" y="260" width="1" height="36" fill="#2f4f4f"/>
<rect x="650" y="263" width="3" height="28" fill="#2f4f4f"/>
<rect x="651" y="264" width="1" height="26" fill="#98fb98"/>
<rect x="655" y="275" width="1" height="19" fill="#8b0000"/>
<rect x="654" y="280" width="3" height="12" fill="#8b0000"/>
<rect x="655" y="281" width="1" height="10" fill="#f00000"/>
<rect x="659" y="259" width="1" height="29" fill="#8b0000"/>
<rect x="658" y="261" width="3" height="18" fill="#8b0000"/>
<rect x="659" y="262" width="1" height="16" fill="#f00000"/>
<rect x="663" y="241" width="1" height="17" fill="#8b0000"/>
<rect x="662" y="250" width="3" height="7" fill="#8b0000"/>
<rect x="663" y="251" width="1" height="5" fill="#f00000"/>
<rect x="667" y="229" width="1" height="23" fill="#8b0000"/>
<rect x="666" y="243" width="3" height="8" fill="#8b0000"/>
<rect x="667" y="244" width="1" height="6" fill="#f00000"/>
<rect x="671" y="233" width="1" height="15" fill="#8b0000"/>
<rect x="670" y="237" width="3" height="7" fill="#8b0000"/>
<rect x="671" y="238" width="1" height="5" fill="#f00000"/>
<rect x="675" y="229" width="1" height="19" fill="#2f4f4f"/>
<rect x="674" y="237" width="3" height="6" fill="#2f4f4f"/>
<rect x="675" y="238" width="1" height="4" fill="#98fb98"/>
<rect x="679" y="206" width="1" height="38" fill="#8b0000"/>
<rect x="678" y="210" width="3" height="33" fill="#8b0000"/>
<rect x="679" y="211" width="1" height="31" fill="#f00000"/>
<rect x="683" y="160" width="1" height="52" fill="#8b0000"/>
<rect x="682" y="160" width="3" height="52" fill="#8b0000"/>
<rect x="683" y="161" width="1" height="50" fill="#f00000"/>
<rect x="687" y="156" width="1" height="17" fill="#2f4f4f"/>
<rect x="686" y="161" width="3" height="10" fill="#2f4f4f"/>
<rect x="687" y="162" width="1" height="8" fill="#98fb98"/>
<rect x="691" y="164" width="1" height="21" fill="#2f4f4f"/>
<rect x="690" y="171" width="3" height="9" fill="#2f4f4f"/>
<rect x="691" y="172" width="1" height="7" fill="#98fb98"/>
<rect x="695" y="157" width="1" height="27" fill="#8b0000"/>
<rect x="694" y="161" width="3" height="19" fill="#8b0000"/>
<rect x="695" y="162" width="1" height="17" fill="#f00000"/>
<rect x="699" y="157" width="1" height="14" fill="#2f4f4f"/>
<rect x="698" y="161" width="3" height="3" fill="#2f4f4f"/>
<rect x="699" y="162" width="1" height="1" fill="#98fb98"/>
<rect x="703" y="164" width="1" height="12" fill="#2f4f4f"/>
<rect x="702" y="171" width="3" height="1" fill="#2f4f4f"/>
<rect x="707" y="164" width="1" height="8" fill="#2f4f4f"/>
<rect x="706" y="168" width="3" height="1" fill="#2f4f4f"/>
<rect x="711" y="150" width="1" height="33" fill="#8b0000"/>
<rect x="710" y="166" width="3" height="6" fill="#8b0000"/>
<rect x="711" y="167" width="1" height="4" fill="#f00000"/>
<rect x="715" y="153" width="1" height="14" fill="#8b0000"/>
<rect x="714" y="156" width="3" height="10" fill="#8b0000"/>
<rect x="715" y="157" width="1" height="8" fill="#f00000"/>
<rect x="719" y="148" width="1" height="27" fill="#8b0000"/>
<rect x="718" y="154" width="3" height="2" fill="#8b0000"/>
<rect x="723" y="147" width="1" height="18" fill="#2f4f4f"/>
<rect x="722" y="148" width="3" height="13" fill="#2f4f4f"/>
<rect x="723" y="149" width="1" height="11" fill="#98fb98"/>
<rect x="727" y="156" width="1" height="9" fill="#2f4f4f"/>
<rect x="726" y="160" width="3" height="2" fill="#2f4f4f"/>
<rect x="731" y="150" width="1" height="16" fill="#8b0000"/>
<rect x="730" y="153" width="3" height="9" fill="#8b0000"/>
<rect x="731" y="154" width="1" height="7" fill="#f00000"/>
<rect x="735" y="152" width="1" height="23" fill="#2f4f4f"/>
<rect x="734" y="153" width="3" height="18" fill="#2f4f4f"/>
<rect x="735" y="154" width="1" height="16" fill="#98fb98"/>
<rect x="739" y="161" width="1" height="64" fill="#2f4f4f"/>
<rect x="738" y="172" width="3" height="48" fill="#2f4f4f"/>
<rect x="739" y="173" width="1" height="46" fill="#98fb98"/>
<rect x="743" y="188" width="1" height="20" fill="#2f4f4f"/>
<rect x="742" y="193" width="3" height="9" fill="#2f4f4f"/>
<rect x="743" y="194" width="1" height="7" fill="#98fb98"/>
<rect x="747" y="195" width="1" height="15" fill="#8b0000"/>
<rect x="746" y="200" width="3" height="2" fill="#8b0000"/>
<rect x="751" y="180" width="1" height="29" fill="#8b0000"/>
<rect x="750" y="192" width="3" height="8" fill="#8b0000"/>
<rect x="751" y="193" width="1" height="6" fill="#f00000"/>
<rect x="755" y="187" width="1" height="25" fill="#2f4f4f"/>
<rect x="754" y="192" width="3" height="11" fill="#2f4f4f"/>
<rect x="755" y="193" width="1" height="9" fill="#98fb98"/>
<rect x="759" y="174" width="1" height="42" fill="#8b0000"/>
<rect x="758" y="178" width="3" height="24" fill="#8b0000"/>
<rect x="759" y="179" width="1" height="22" fill="#f00000"/>
<rect x="763" y="125" width="1" height="55" fill="#8b0000"/>
<rect x="762" y="134" width="3" height="45" fill="#8b0000"/>
<rect x="763" y="135" width="1" height="43" fill="#f00000"/>
<rect x="767" y="122" width="1" height="21" fill="#8b0000"/>
<rect x="766" y="132" width="3" height="3" fill="#8b0000"/>
<rect x="767" y="133" width="1" height="1" fill="#f00000"/>
<rect x="771" y="131" width="1" height="34" fill="#2f4f4f"/>
<rect x="770" y="132" width="3" height="19" fill="#2f4f4f"/>
<rect x="771" y="133" width="1" height="17" fill="#98fb98"/>
<rect x="775" y="142" width="1" height="14" fill="#8b0000"/>
<rect x="774" y="148" width="3" height="3" fill="#8b0000"/>
<rect x="775" y="149" width="1" height="1" fill="#f00000"/>
<rect x="779" y="126" width="1" height="24" fill="#8b0000"/>
<rect x="778" y="132" width="3" height="17" fill="#8b0000"/>
<rect x="779" y="133" width="1" height="15" fill="#f00000"/>
<rect x="783" y="104" width="1" height="23" fill="#8b0000"/>
<rect x="782" y="106" width="3" height="20" fill="#8b0000"/>
<rect x="783" y="107" width="1" height="18" fill="#f00000"/>
<rect x="787" y="101" width="1" height="10" fill="#2f4f4f"/>
<rect x="786" y="106" width="3" height="1" fill="#2f4f4f"/>
<rect x="791" y="94" width="1" height="20" fill="#8b0000"/>
<rect x="790" y="102" width="3" height="5" fill="#8b0000"/>
<rect x="791" y="103" width="1" height="3" fill="#f00000"/>
<rect x="795" y="37" width="1" height="101" fill="#8b0000"/>
<rect x="794" y="46" width="3" height="56" fill="#8b0000"/>
<rect x="795" y="47" width="1" height="54" fill="#f00000"/>
<rect x="799" y="34" width="1" height="69" fill="#2f4f4f"/>
<rect x="798" y="46" width="3" height="54" fill="#2f4f4f"/>
<rect x="799" y="47" width="1" height="52" fill="#98fb98"/>
<rect x="803" y="100" width="1" height="23" fill="#2f4f4f"/>
<rect x="802" y="102" width="3" height="6" fill="#2f4f4f"/>
<rect x="803" y="103" width="1" height="4" fill="#98fb98"/>
<rect x="807" y="94" width="1" height="26" fill="#8b0000"/>
<rect x="806" y="98" width="3" height="10" fill="#8b0000"/>
<rect x="807" y="99" width="1" height="8" fill="#f00000"/>
<rect x="811" y="94" width="1" height="20" fill="#2f4f4f"/>
<rect x="810" y="98" width="3" height="2" fill="#2f4f4f"/>
<rect x="815" y="86" width="1" height="25" fill="#2f4f4f"/>
<rect x="814" y="97" width="3" height="1" fill="#2f4f4f"/>
<rect x="819" y="90" width="1" height="26" fill="#2f4f4f"/>
<rect x="818" y="100" width="3" height="8" fill="#2f4f4f"/>
<rect x="819" y="101" width="1" height="6" fill="#98fb98"/>
<rect x="823" y="85" width="1" height="27" fill="#2f4f4f"/>
<rect x="822" y="102" width="3" height="2" fill="#2f4f4f"/>
<rect x="827" y="75" width="1" height="33" fill="#8b0000"/>
<rect x="826" y="77" width="3" height="28" fill="#8b0000"/>
<rect x="827" y="78" width="1" height="26" fill="#f00000"/>
<rect x="831" y="71" width="1" height="22" fill="#2f4f4f"/>
<rect x="830" y="77" width="3" height="9" fill="#2f4f4f"/>
<rect x="831" y="78" width="1" height="7" fill="#98fb98"/>
<rect x="835" y="71" width="1" height="19" fill="#2f4f4f"/>
<rect x="834" y="86" width="3" height="1" fill="#2f4f4f"/>
<rect x="839" y="75" width="1" height="27" fill="#2f4f4f"/>
<rect x="838" y="87" width="3" height="2" fill="#2f4f4f"/>
<rect x="843" y="89" width="1" height="30" fill="#2f4f4f"/>
<rect x="842" y="92" width="3" height="19" fill="#2f4f4f"/>
<rect x="843" y="93" width="1" height="17" fill="#98fb98"/>
<rect x="847" y="97" width="1" height="25" fill="#2f4f4f"/>
<rect x="846" y="110" width="3" height="5" fill="#2f4f4f"/>
<rect x="847" y="111" width="1" height="3" fill="#98fb98"/>
<rect x="851" y="91" width="1" height="34" fill="#8b0000"/>
<rect x="850" y="107" width="3" height="8" fill="#8b0000"/>
<rect x="851" y="108" width="1" height="6" fill="#f00000"/>
<rect x="855" y="76" width="1" height="47" fill="#2f4f4f"/>
<rect x="854" y="107" width="3" height="14" fill="#2f4f4f"/>
<rect x="855" y="108" width="1" height="12" fill="#98fb98"/>
<rect x="859" y="86" width="1" height="42" fill="#8b0000"/>
<rect x="858" y="96" width="3" height="30" fill="#8b0000"/>
<rect x="859" y="97" width="1" height="28" fill="#f00000"/>
<rect x="863" y="70" width="1" height="25" fill="#8b0000"/>
<rect x="862" y="74" width="3" height="20" fill="#8b0000"/>
<rect x="863" y="75" width="1" height="18" fill="#f00000"/>
<rect x="867" y="55" width="1" height="30" fill="#8b0000"/>
<rect x="866" y="71" width="3" height="4" fill="#8b0000"/>
<rect x="867" y="72" width="1" height="2" fill="#f00000"/>
<rect x="871" y="58" width="1" height="14" fill="#8b0000"/>
<rect x="870" y="66" width="3" height="5" fill="#8b0000"/>
<rect x="871" y="67" width="1" height="3" fill="#f00000"/>
<rect x="875" y="61" width="1" height="14" fill="#8b0000"/>
<rect x="874" y="62" width="3" height="7" fill="#8b0000"/>
<rect x="875" y="63" width="1" height="5" fill="#f00000"/>
<rect x="879" y="41" width="1" height="33" fill="#8b0000"/>
<rect x="878" y="42" width="3" height="31" fill="#8b0000"/>
<rect x="879" y="43" width="1" height="29" fill="#f00000"/>
<rect x="883" y="23" width="1" height="24" fill="#8b0000"/>
<rect x="882" y="29" width="3" height="14" fill="#8b0000"/>
<rect x="883" y="30" width="1" height="12" fill="#f00000"/>
<rect x="887" y="19" width="1" height="23" fill="#2f4f4f"/>
<rect x="886" y="29" width="3" height="9" fill="#2f4f4f"/>
<rect x="887" y="30" width="1" height="7" fill="#98fb98"/>
<rect x="891" y="35" width="1" height="27" fill="#2f4f4f"/>
<rect x="890" y="37" width="3" height="18" fill="#2f4f4f"/>
<rect x="891" y="38" width="1" height="16" fill="#98fb98"/>
<rect x="895" y="50" width="1" height="15" fill="#2f4f4f"/>
<rect x="894" y="55" width="3" height="4" fill="#2f4f4f"/>
<rect x="895" y="56" width="1" height="2" fill="#98fb98"/>
<rect x="899" y="57" width="1" height="17" fill="#2f4f4f"/>
<rect x="898" y="62" width="3" height="6" fill="#2f4f4f"/>
<rect x="899" y="63" width="1" height="4" fill="#98fb98"/>
<rect x="903" y="60" width="1" height="13" fill="#2f4f4f"/>
<rect x="902" y="67" width="3" height="3" fill="#2f4f4f"/>
<rect x="903" y="68" width="1" height="1" fill="#98fb98"/>
<rect x="907" y="61" width="1" height="11" fill="#8b0000"/>
<rect x="906" y="63" width="3" height="7" fill="#8b0000"/>
<rect x="907" y="64" width="1" height="5" fill="#f00000"/>
<rect x="911" y="55" width="1" height="28" fill="#2f4f4f"/>
<rect x="910" y="63" width="3" height="6" fill="#2f4f4f"/>
<rect x="911" y="64" width="1" height="4" fill="#98fb98"/>
<rect x="915" y="58" width="1" height="13" fill="#2f4f4f"/>
<rect x="914" y="62" width="3" height="5" fill="#2f4f4f"/>
<rect x="915" y="63" width="1" height="3" fill="#98fb98"/>
<rect x="919" y="56" width="1" height="25" fill="#2f4f4f"/>
<rect x="918" y="66" width="3" height="13" fill="#2f4f4f"/>
<rect x="919" y="67" width="1" height="11" fill="#98fb98"/>
<rect x="923" y="75" width="1" height="11" fill="#2f4f4f"/>
<rect x="922" y="79" width="3" height="6" fill="#2f4f4f"/>
<rect x="923" y="80" width="1" height="4" fill="#98fb98"/>
<rect x="927" y="73" width="1" height="14" fill="#2f4f4f"/>
<rect x="926" y="78" width="3" height="7" fill="#2f4f4f"/>
<rect x="927" y="79" width="1" height="5" fill="#98fb98"/>
<rect x="931" y="86" width="1" height="28" fill="#2f4f4f"/>
<rect x="930" y="90" width="3" height="4" fill="#2f4f4f"/>
<rect x="931" y="91" width="1" height="2" fill="#98fb98"/>
<rect x="935" y="82" width="1" height="20" fill="#8b0000"/>
<rect x="934" y="89" width="3" height="5" fill="#8b0000"/>
<rect x="935" y="90" width="1" height="3" fill="#f00000"/>
<rect x="939" y="84" width="1" height="13" fill="#2f4f4f"/>
<rect x="938" y="86" width="3" height="6" fill="#2f4f4f"/>
<rect x="939" y="87" width="1" height="4" fill="#98fb98"/>
<rect x="943" y="85" width="1" height="17" fill="#2f4f4f"/>
<rect x="942" y="88" width="3" height="5" fill="#2f4f4f"/>
<rect x="943" y="89" width="1" height="3" fill="#98fb98"/>
<rect x="947" y="83" width="1" height="11" fill="#8b0000"/>
<rect x="946" y="86" width="3" height="4" fill="#8b0000"/>
<rect x="947" y="87" width="1" height="2" fill="#f00000"/>
<rect x="951" y="78" width="1" height="14" fill="#8b0000"/>
<rect x="950" y="83" width="3" height="3" fill="#8b0000"/>
<rect x="951" y="84" width="1" height="1" fill="#f00000"/>
<rect x="955" y="80" width="1" height="11" fill="#2f4f4f"/>
<rect x="954" y="84" width="3" height="3" fill="#2f4f4f"/>
<rect x="955" y="85" width="1" height="1" fill="#98fb98"/>
<rect x="959" y="83" width="1" height="7" fill="#2f4f4f"/>
<rect x="958" y="86" width="3" height="2" fill="#2f4f4f"/>
<rect x="963" y="85" width="1" height="9" fill="#2f4f4f"/>
<rect x="962" y="87" width="3" height="3" fill="#2f4f4f"/>
<rect x="963" y="88" width="1" height="1" fill="#98fb98"/>
<rect x="967" y="66" width="1" height="38" fill="#2f4f4f"/>
<rect x="966" y="88" width="3" height="9" fill="#2f4f4f"/>
<rect x="967" y="89" width="1" height="7" fill="#98fb98"/>
<rect x="971" y="94" width="1" height="24" fill="#2f4f4f"/>
<rect x="970" y="98" width="3" height="14" fill="#2f4f4f"/>
<rect x="971" y="99" width="1" height="12" fill="#98fb98"/>
<rect x="975" y="111" width="1" height="24" fill="#2f4f4f"/>
<rect x="974" y="112" width="3" height="22" fill="#2f4f4f"/>
<rect x="975" y="113" width="1" height="20" fill="#98fb98"/>
<rect x="979" y="134" width="1" height="8" fill="#2f4f4f"/>
<rect x="978" y="134" width="3" height="3" fill="#2f4f4f"/>
<rect x="979" y="135" width="1" height="1" fill="#98fb98"/>
<rect x="983" y="142" width="1" height="23" fill="#2f4f4f"/>
<rect x="982" y="142" width="3" height="5" fill="#2f4f4f"/>
<rect x="983" y="143" width="1" height="3" fill="#98fb98"/>
<rect x="987" y="145" width="1" height="17" fill="#2f4f4f"/>
<rect x="986" y="146" width="3" height="1" fill="#2f4f4f"/>
<rect x="991" y="139" width="1" height="11" fill="#8b0000"/>
<rect x="990" y="145" width="3" height="2" fill="#8b0000"/>
<rect x="995" y="138" width="1" height="16" fill="#8b0000"/>
<rect x="994" y="141" width="3" height="6" fill="#8b0000"/>
<rect x="995" y="142" width="1" height="4" fill="#f00000"/>
<rect x="999" y="137" width="1" height="22" fill="#2f4f4f"/>
<rect x="998" y="141" width="3" height="6" fill="#2f4f4f"/>
<rect x="999" y="142" width="1" height="4" fill="#98fb98"/>
<rect x="1003" y="144" width="1" height="7" fill="#2f4f4f"/>
<rect x="1002" y="147" width="3" height="1" fill="#2f4f4f"/>
<rect x="1007" y="150" width="1" height="18" fill="#2f4f4f"/>
<rect x="1006" y="153" width="3" height="13" fill="#2f4f4f"/>
<rect x="1007" y="154" width="1" height="11" fill="#98fb98"/>
<rect x="1011" y="168" width="1" height="34" fill="#2f4f4f"/>
<rect x="1010" y="185" width="3" height="16" fill="#2f4f4f"/>
<rect x="1011" y="186" width="1" height="14" fill="#98fb98"/>
<rect x="1015" y="182" width="1" height="30" fill="#8b0000"/>
<rect x="1014" y="200" width="3" height="3" fill="#8b0000"/>
<rect x="1015" y="201" width="1" height="1" fill="#f00000"/>
<rect x="1019" y="184" width="1" height="16" fill="#8b0000"/>
<rect x="1018" y="197" width="3" height="2" fill="#8b0000"/>
<rect x="1023" y="191" width="1" height="22" fill="#2f4f4f"/>
<rect x="1022" y="197" width="3" height="2" fill="#2f4f4f"/>
<rect x="1027" y="161" width="1" height="39" fill="#8b0000"/>
<rect x="1026" y="164" width="3" height="35" fill="#8b0000"/>
<rect x="1027" y="165" width="1" height="33" fill="#f00000"/>
<rect x="1031" y="136" width="1" height="28" fill="#8b0000"/>
<rect x="1030" y="156" width="3" height="7" fill="#8b0000"/>
<rect x="1031" y="157" width="1" height="5" fill="#f00000"/>
<rect x="1035" y="148" width="1" height="22" fill="#2f4f4f"/>
<rect x="1034" y="161" width="3" height="7" fill="#2f4f4f"/>
<rect x="1035" y="162" width="1" height="5" fill="#98fb98"/>
<rect x="1039" y="108" width="1" height="61" fill="#8b0000"/>
<rect x="1038" y="151" width="3" height="6" fill="#8b0000"/>
<rect x="1039" y="152" width="1" height="4" fill="#f00000"/>
<rect x="1043" y="118" width="1" height="62" fill="#2f4f4f"/>
<rect x="1042" y="141" width="3" height="5" fill="#2f4f4f"/>
<rect x="1043" y="142" width="1" height="3" fill="#98fb98"/>
<rect x="1047" y="95" width="1" height="68" fill="#8b0000"/>
<rect x="1046" y="129" width="3" height="29" fill="#8b0000"/>
<rect x="1047" y="130" width="1" height="27" fill="#f00000"/>
<rect x="1051" y="110" width="1" height="27" fill="#8b0000"/>
<rect x="1050" y="117" width="3" height="11" fill="#8b0000"/>
<rect x="1051" y="118" width="1" height="9" fill="#f00000"/>
<rect x="1055" y="61" width="1" height="117" fill="#8b0000"/>
<rect x="1054" y="78" width="3" height="40" fill="#8b0000"/>
<rect x="1055" y="79" width="1" height="38" fill="#f00000"/>
<rect x="1059" y="59" width="1" height="47" fill="#8b0000"/>
<rect x="1058" y="73" width="3" height="7" fill="#8b0000"/>
<rect x="1059" y="74" width="1" height="5" fill="#f00000"/>
<rect x="1063" y="52" width="1" height="101" fill="#8b0000"/>
<rect x="1062" y="72" width="3" height="8" fill="#8b0000"/>
<rect x="1063" y="73" width="1" height="6" fill="#f00000"/>
<rect x="1067" y="72" width="1" height="22" fill="#2f4f4f"/>
<rect x="1066" y="73" width="3" height="8" fill="#2f4f4f"/>
<rect x="1067" y="74" width="1" height="6" fill="#98fb98"/>
<rect x="1071" y="77" width="1" height="12" fill="#2f4f4f"/>
<rect x="1070" y="81" width="3" height="2" fill="#2f4f4f"/>
<rect x="1075" y="56" width="1" height="34" fill="#8b0000"/>
<rect x="1074" y="74" width="3" height="9" fill="#8b0000"/>
<rect x="1075" y="75" width="1" height="7" fill="#f00000"/>
<rect x="1078" y="74" width="3" height="1" fill="#222"/>
<rect x="0" y="243" width="1" height="14" fill="#8b0000"/>
</g>
</g>
<rect x="0" y="13" width="1135" height="2" fill="#ff0000"/>
<rect x="0" y="25" width="1135" height="1" fill="#ff0000"/>
<rect x="0" y="121" width="1135" height="1" fill="#ff0000"/>
<rect x="0" y="134" width="1135" height="2" fill="#ff0000"/>
<rect x="0" y="75" width="1135" height="1" fill="#4169e1"/>

<polygon points="889.0,19.8 916.9,92.2 911.3,94.6 931.5,114.5 929.0,87.0 923.4,89.4 888.0,20.2" fill="#fa5555"/>
<polygon points="931.0,114.2 945.7,85.6 940.5,81.8 963.9,66.9 956.0,93.2 950.8,89.4 932.0,114.8" fill="#fa5555"/>
<polygon points="968.6,68.0 1001.2,204.9 994.6,206.4 1011.0,227.2 1015.5,201.5 1008.9,203.0 967.4,68.4" fill="#fa5555"/>
<polygon points="1010.4,227.0 1065.8,52.7 1060.6,51.3 1078.3,30.4 1079.6,56.5 1074.4,55.1 1011.6,227.4" fill="#fa5555"/>
<polygon points="1082.3,33.8 1094.3,102.2 1088.2,103.9 1104.1,126.0 1108.1,98.2 1102.0,99.9 1081.1,34.0" fill="#fa5555"/>
<polygon points="1104.3,122.2 1115.3,82.3 1109.1,80.5 1127.6,59.1 1128.6,86.1 1122.4,84.3 1105.5,122.6" fill="#fa5555"/>
<rect x="0" y="608" width="1135" height="1" fill="#ff0000"/>
<line x1="0" y1="626.5" x2="1135" y2="626.5" stroke="#ff0000" stroke-width="1" stroke-dasharray="9 3 3 3 3 3" stroke-dashoffset="17" shape-rendering="crispEdges"/>
<line x1="0" y1="649.5" x2="1135" y2="649.5" stroke="#444" stroke-width="1" stroke-dasharray="3 3" stroke-dashoffset="4" shape-rendering="crispEdges"/>
<line x1="0" y1="672.5" x2="1135" y2="672.5" stroke="#0000ff" stroke-width="1" stroke-dasharray="9 3 3 3 3 3" stroke-dashoffset="17" shape-rendering="crispEdges"/>
<rect x="0" y="690" width="1135" height="1" fill="#0000ff"/>
<g clip-path="url(#cr)" shape-rendering="crispEdges">
<polyline points="-0.5,660.0 3.5,660.0 7.5,662.5 11.5,669.1 15.5,669.2 19.5,665.3 23.5,666.1 27.5,659.9 31.5,651.5 35.5,650.2 39.5,648.2 43.5,646.7 47.5,657.6 51.5,656.5 55.5,655.8 59.5,654.1 63.5,655.4 67.5,657.2 71.5,653.9 75.5,651.5 79.5,646.3 83.5,642.4 87.5,642.2 91.5,641.4 95.5,640.4 99.5,639.1 103.5,639.6 107.5,638.8 111.5,645.3 115.5,648.5 119.5,650.2 123.5,648.2 127.5,650.6 131.5,656.3 135.5,653.2 139.5,650.1 143.5,657.9 147.5,664.6 151.5,666.9 155.5,670.4 159.5,670.8 163.5,669.9 167.5,669.0 171.5,665.1 175.5,666.2 179.5,665.7 183.5,659.9 187.5,657.0 191.5,656.3 195.5,656.4 199.5,658.4 203.5,658.9 207.5,657.3 211.5,655.3 215.5,670.5 219.5,676.6 223.5,679.8 227.5,681.5 231.5,674.5 235.5,671.7 239.5,667.7 243.5,655.9 247.5,658.9 251.5,661.7 255.5,661.4 259.5,664.0 263.5,658.6 267.5,653.8 271.5,653.0 275.5,652.4 279.5,650.8 283.5,650.5 287.5,649.9 291.5,649.5 295.5,654.6 299.5,656.8 303.5,658.6 307.5,659.6 311.5,659.5 315.5,657.8 319.5,649.1 323.5,647.4 327.5,646.6 331.5,647.5 335.5,647.7 339.5,651.4 343.5,651.6 347.5,654.1 351.5,656.3 355.5,660.7 359.5,657.1 363.5,654.9 367.5,655.0 371.5,656.6 375.5,654.6 379.5,653.3 383.5,651.5 387.5,653.1 391.5,651.7 395.5,652.5 399.5,653.2 403.5,654.1 407.5,657.4 411.5,657.7 415.5,658.1 419.5,659.1 423.5,659.7 427.5,655.2 431.5,653.2 435.5,651.5 439.5,650.9 443.5,652.6 447.5,651.4 451.5,648.9 455.5,642.6 459.5,639.3 463.5,636.7 467.5,637.7 471.5,642.1 475.5,643.0 479.5,640.0 483.5,641.4 487.5,644.4 491.5,643.6 495.5,642.7 499.5,642.3 503.5,642.0 507.5,639.2 511.5,638.5 515.5,637.1 519.5,637.0 523.5,637.2 527.5,637.7 531.5,640.9 535.5,647.1 539.5,645.6 543.5,650.4 547.5,656.9 551.5,658.8 555.5,648.6 559.5,638.8 563.5,630.0 567.5,628.6 571.5,627.7 575.5,625.5 579.5,624.2 583.5,626.3 587.5,632.0 591.5,629.8 595.5,634.5 599.5,639.2 603.5,637.5 607.5,637.7 611.5,637.2 615.5,634.5 619.5,633.0 623.5,632.3 627.5,631.3 631.5,627.9 635.5,626.7 639.5,625.4 643.5,628.2 647.5,633.1 651.5,642.6 655.5,644.6 659.5,641.8 663.5,636.3 667.5,634.4 671.5,634.5 675.5,634.0 679.5,631.2 683.5,624.6 687.5,621.7 691.5,625.2 695.5,624.6 699.5,623.7 703.5,625.8 707.5,625.6 711.5,625.3 715.5,624.2 719.5,625.0 723.5,624.0 727.5,626.2 731.5,625.7 735.5,628.1 739.5,640.0 743.5,641.8 747.5,643.2 751.5,641.2 755.5,642.8 759.5,641.6 763.5,631.6 767.5,628.0 771.5,633.5 775.5,633.8 779.5,631.7 783.5,627.8 787.5,626.2 791.5,625.9 795.5,623.4 799.5,620.8 803.5,634.9 807.5,634.2 811.5,633.6 815.5,632.7 819.5,634.1 823.5,633.3 827.5,631.9 831.5,630.2 835.5,630.0 839.5,633.0 843.5,638.4 847.5,640.1 851.5,639.7 855.5,637.7 859.5,640.5 863.5,634.8 867.5,632.4 871.5,631.4 875.5,632.4 879.5,630.4 883.5,626.4 887.5,625.6 891.5,632.4 895.5,635.5 899.5,638.2 903.5,638.5 907.5,638.5 911.5,639.5 915.5,638.3 919.5,639.9 923.5,644.3 927.5,644.2 931.5,651.0 935.5,648.3 939.5,647.9 943.5,649.0 947.5,647.3 951.5,646.2 955.5,646.3 959.5,646.7 963.5,647.8 967.5,646.2 971.5,654.4 975.5,660.0 979.5,664.0 983.5,667.7 987.5,667.8 991.5,663.7 995.5,664.2 999.5,664.8 1003.5,664.6 1007.5,667.8 1011.5,673.6 1015.5,676.0 1019.5,673.4 1023.5,675.4 1027.5,665.8 1031.5,655.3 1035.5,657.5 1039.5,651.5 1043.5,654.2 1047.5,648.8 1051.5,647.4 1055.5,646.4 1059.5,638.2 1063.5,643.7 1067.5,639.8 1071.5,639.8 1075.5,637.8 1079.5,638.6" fill="none" stroke="#ff0000" stroke-width="1" />
<polyline points="-0.5,665.8 3.5,665.8 7.5,668.8 11.5,676.4 15.5,676.4 19.5,670.7 23.5,671.7 27.5,662.5 31.5,650.7 35.5,649.0 39.5,646.2 43.5,644.2 47.5,659.3 51.5,657.9 55.5,656.8 59.5,654.5 63.5,656.3 67.5,658.8 71.5,653.9 75.5,650.4 79.5,643.1 83.5,637.9 87.5,637.6 91.5,636.5 95.5,635.1 99.5,633.4 103.5,634.3 107.5,633.1 111.5,643.9 115.5,648.9 119.5,651.4 123.5,648.3 127.5,652.0 131.5,660.3 135.5,655.4 139.5,650.6 143.5,661.8 147.5,670.3 151.5,673.0 155.5,677.2 159.5,677.6 163.5,676.2 167.5,674.8 171.5,668.7 175.5,670.2 179.5,669.4 183.5,660.3 187.5,655.9 191.5,654.9 195.5,655.0 199.5,658.2 203.5,659.0 207.5,656.6 211.5,653.3 215.5,675.3 219.5,682.5 223.5,686.0 227.5,687.6 231.5,677.8 235.5,673.8 239.5,668.3 243.5,652.7 247.5,656.9 251.5,660.7 255.5,660.3 259.5,664.0 263.5,656.7 267.5,650.3 271.5,649.3 275.5,648.5 279.5,646.4 283.5,646.0 287.5,645.1 291.5,644.6 295.5,652.9 299.5,656.3 303.5,658.9 307.5,660.6 311.5,660.3 315.5,657.6 319.5,644.6 323.5,642.2 327.5,641.0 331.5,642.7 335.5,643.0 339.5,649.3 343.5,649.6 347.5,653.8 351.5,657.4 355.5,664.1 359.5,658.3 363.5,654.7 367.5,654.9 371.5,657.4 375.5,654.3 379.5,652.0 383.5,649.2 387.5,652.0 391.5,649.6 395.5,651.1 399.5,652.3 403.5,653.8 407.5,659.5 411.5,660.1 415.5,660.8 419.5,662.5 423.5,663.5 427.5,655.1 431.5,651.5 435.5,648.5 439.5,647.5 443.5,650.8 447.5,648.6 451.5,644.4 455.5,634.5 459.5,630.0 463.5,626.4 467.5,628.4 471.5,636.5 475.5,638.2 479.5,633.8 483.5,636.2 487.5,641.6 491.5,640.3 495.5,639.0 499.5,638.3 503.5,637.8 507.5,633.4 511.5,632.3 515.5,630.1 519.5,629.9 523.5,630.4 527.5,631.4 531.5,637.8 535.5,649.2 539.5,646.5 543.5,654.4 547.5,664.2 551.5,666.9 555.5,649.7 559.5,635.5 563.5,624.6 567.5,622.9 571.5,622.0 575.5,619.4 579.5,617.9 583.5,621.2 587.5,629.6 591.5,626.7 595.5,633.6 599.5,640.2 603.5,637.7 607.5,638.1 611.5,637.2 615.5,633.3 619.5,631.1 623.5,630.2 627.5,628.7 631.5,624.0 635.5,622.4 639.5,620.6 643.5,625.1 647.5,632.8 651.5,646.6 655.5,649.4 659.5,645.0 663.5,636.6 667.5,633.8 671.5,634.1 675.5,633.4 679.5,629.2 683.5,620.5 687.5,616.9 691.5,622.1 695.5,621.3 699.5,620.1 703.5,623.4 707.5,623.0 711.5,622.7 715.5,621.1 719.5,622.4 723.5,620.9 727.5,624.5 731.5,623.7 735.5,627.9 739.5,645.9 743.5,648.5 747.5,650.4 751.5,646.7 755.5,649.1 759.5,647.0 763.5,630.9 767.5,625.9 771.5,633.8 775.5,634.3 779.5,631.2 783.5,625.7 787.5,623.6 791.5,623.2 795.5,619.8 799.5,616.6 803.5,636.6 807.5,635.7 811.5,634.8 815.5,633.4 819.5,635.5 823.5,634.2 827.5,632.2 831.5,629.6 835.5,629.2 839.5,633.9 843.5,642.0 847.5,644.5 851.5,643.8 855.5,640.4 859.5,644.6 863.5,635.4 867.5,631.7 871.5,630.3 875.5,631.8 879.5,628.7 883.5,623.1 887.5,622.0 891.5,632.5 895.5,637.1 899.5,641.0 903.5,641.5 907.5,641.5 911.5,643.0 915.5,641.0 919.5,643.4 923.5,650.2 927.5,649.9 931.5,659.7 935.5,654.9 939.5,654.1 943.5,655.7 947.5,652.7 951.5,650.5 955.5,650.8 959.5,651.4 963.5,653.2 967.5,650.2 971.5,662.6 975.5,670.0 979.5,674.9 983.5,679.0 987.5,679.1 991.5,672.0 995.5,672.6 999.5,673.4 1003.5,673.0 1007.5,677.0 1011.5,683.7 1015.5,686.2 1019.5,682.0 1023.5,684.2 1027.5,669.0 1031.5,653.9 1035.5,657.1 1039.5,648.8 1043.5,652.8 1047.5,645.5 1051.5,643.7 1055.5,642.4 1059.5,632.0 1063.5,640.1 1067.5,635.2 1071.5,635.2 1075.5,632.7 1079.5,634.0" fill="none" stroke="#0000ff" stroke-width="1" />
<polyline points="-0.5,674.4 3.5,674.4 7.5,678.5 11.5,687.9 15.5,688.0 19.5,676.2 23.5,677.8 27.5,659.6 31.5,640.3 35.5,637.8 39.5,633.6 43.5,630.5 47.5,661.3 51.5,658.6 55.5,656.5 59.5,651.9 63.5,656.0 67.5,661.3 71.5,650.6 75.5,643.5 79.5,630.8 83.5,623.1 87.5,622.8 91.5,621.2 95.5,619.1 99.5,616.6 103.5,619.3 107.5,617.3 111.5,646.1 115.5,656.6 119.5,661.4 123.5,653.3 127.5,660.9 131.5,674.8 135.5,663.0 139.5,652.2 143.5,671.3 147.5,682.4 151.5,685.5 155.5,689.9 159.5,690.4 163.5,687.4 167.5,684.1 171.5,670.5 175.5,673.5 179.5,671.5 183.5,652.2 187.5,644.2 191.5,642.3 195.5,642.7 199.5,651.9 203.5,654.2 207.5,648.4 211.5,641.2 215.5,684.6 219.5,692.4 223.5,695.6 227.5,697.1 231.5,680.1 235.5,673.3 239.5,664.0 243.5,640.8 247.5,649.1 251.5,656.4 255.5,655.8 259.5,662.9 263.5,650.2 267.5,639.9 271.5,638.4 275.5,637.0 279.5,633.5 283.5,632.8 287.5,631.3 291.5,630.2 295.5,653.0 299.5,660.6 303.5,666.1 307.5,669.3 311.5,668.5 315.5,660.9 319.5,633.0 323.5,629.0 327.5,627.0 331.5,631.7 335.5,632.6 339.5,649.4 343.5,650.2 347.5,660.3 351.5,667.7 355.5,679.1 359.5,664.6 363.5,656.1 367.5,656.7 371.5,662.3 375.5,654.4 379.5,648.9 383.5,642.6 387.5,650.1 391.5,644.4 395.5,648.6 399.5,651.8 403.5,656.2 407.5,669.7 411.5,670.8 415.5,672.4 419.5,676.0 423.5,678.0 427.5,652.7 431.5,644.0 435.5,637.5 439.5,635.4 443.5,645.5 447.5,640.2 451.5,631.2 455.5,616.0 459.5,610.9 463.5,607.4 467.5,612.4 471.5,631.5 475.5,635.4 479.5,627.0 483.5,632.6 487.5,644.3 491.5,641.3 495.5,638.2 499.5,636.6 503.5,635.4 507.5,625.4 511.5,623.2 515.5,619.0 519.5,618.6 523.5,620.2 527.5,623.6 531.5,642.9 535.5,666.7 539.5,658.6 543.5,671.8 547.5,684.0 551.5,686.7 555.5,651.0 559.5,629.3 563.5,616.2 567.5,614.3 571.5,613.2 575.5,610.3 579.5,608.6 583.5,614.9 587.5,630.8 591.5,625.4 595.5,638.0 599.5,649.1 603.5,643.7 607.5,644.3 611.5,642.3 615.5,633.4 619.5,628.7 623.5,626.7 627.5,623.7 631.5,615.2 635.5,612.8 639.5,610.2 643.5,621.0 647.5,637.8 651.5,661.6 655.5,665.6 659.5,654.8 663.5,637.2 667.5,632.1 671.5,632.6 675.5,631.2 679.5,623.2 683.5,610.6 687.5,606.7 691.5,616.7 695.5,615.6 699.5,613.6 703.5,620.7 707.5,620.0 711.5,619.3 715.5,616.1 719.5,619.3 723.5,616.1 727.5,625.6 731.5,623.5 735.5,634.1 739.5,667.2 743.5,670.8 747.5,673.4 751.5,662.4 755.5,666.3 759.5,660.2 763.5,625.6 767.5,618.2 771.5,633.0 775.5,633.8 779.5,628.2 783.5,619.3 787.5,616.2 791.5,615.6 795.5,610.7 799.5,606.8 803.5,642.8 807.5,640.9 811.5,639.1 815.5,636.1 819.5,640.2 823.5,637.2 827.5,632.5 831.5,626.9 835.5,626.1 839.5,637.2 843.5,653.8 847.5,658.5 851.5,656.3 855.5,646.5 859.5,655.4 863.5,633.5 867.5,626.5 871.5,624.0 875.5,627.6 879.5,621.8 883.5,612.9 887.5,611.5 891.5,633.9 895.5,642.6 899.5,649.8 903.5,650.6 907.5,650.6 911.5,653.7 915.5,647.8 919.5,653.3 923.5,666.5 927.5,665.7 931.5,680.7 935.5,667.5 939.5,665.5 943.5,668.4 947.5,660.0 951.5,654.1 955.5,654.8 959.5,656.3 963.5,660.9 967.5,651.6 971.5,677.1 975.5,686.6 979.5,691.6 983.5,695.2 987.5,695.3 991.5,679.4 995.5,680.3 999.5,681.6 1003.5,680.7 1007.5,687.4 1011.5,695.4 1015.5,697.7 1019.5,689.0 1023.5,692.0 1027.5,663.7 1031.5,641.3 1035.5,647.7 1039.5,636.2 1043.5,644.2 1047.5,633.9 1051.5,631.4 1055.5,629.5 1059.5,616.5 1063.5,632.9 1067.5,625.9 1071.5,625.9 1075.5,622.2 1079.5,625.1" fill="none" stroke="#000000" stroke-width="1" />
</g>
<g clip-path="url(#cd)">
<g shape-rendering="crispEdges">
<rect x="2" y="753" width="3" height="8" fill="#ffa07a"/>
<rect x="6" y="753" width="3" height="5" fill="#ffa07a"/>
<rect x="10" y="753" width="3" height="11" fill="#ffa07a"/>
<rect x="14" y="753" width="3" height="7" fill="#ffa07a"/>
<rect x="18" y="753" width="3" height="3" fill="#ffa07a"/>
<rect x="22" y="753" width="3" height="1" fill="#1e90ff"/>
<rect x="26" y="742" width="3" height="12" fill="#1e90ff"/>
<rect x="30" y="729" width="3" height="25" fill="#1e90ff"/>
<rect x="34" y="729" width="3" height="25" fill="#1e90ff"/>
<rect x="38" y="736" width="3" height="18" fill="#1e90ff"/>
<rect x="42" y="744" width="3" height="10" fill="#1e90ff"/>
<rect x="46" y="753" width="3" height="4" fill="#ffa07a"/>
<rect x="50" y="753" width="3" height="2" fill="#ffa07a"/>
<rect x="54" y="753" width="3" height="1" fill="#ffa07a"/>
<rect x="58" y="753" width="3" height="1" fill="#1e90ff"/>
<rect x="62" y="753" width="3" height="6" fill="#ffa07a"/>
<rect x="66" y="753" width="3" height="7" fill="#ffa07a"/>
<rect x="70" y="753" width="3" height="1" fill="#1e90ff"/>
<rect x="74" y="746" width="3" height="8" fill="#1e90ff"/>
<rect x="78" y="739" width="3" height="15" fill="#1e90ff"/>
<rect x="82" y="737" width="3" height="17" fill="#1e90ff"/>
<rect x="86" y="741" width="3" height="13" fill="#1e90ff"/>
<rect x="90" y="746" width="3" height="8" fill="#1e90ff"/>
<rect x="94" y="749" width="3" height="5" fill="#1e90ff"/>
<rect x="98" y="753" width="3" height="1" fill="#1e90ff"/>
<rect x="102" y="753" width="3" height="1" fill="#1e90ff"/>
<rect x="106" y="753" width="3" height="1" fill="#ffa07a"/>
<rect x="110" y="753" width="3" height="11" fill="#ffa07a"/>
<rect x="114" y="753" width="3" height="17" fill="#ffa07a"/>
<rect x="118" y="753" width="3" height="10" fill="#ffa07a"/>
<rect x="122" y="753" width="3" height="11" fill="#ffa07a"/>
<rect x="126" y="753" width="3" height="9" fill="#ffa07a"/>
<rect x="130" y="753" width="3" height="9" fill="#ffa07a"/>
<rect x="134" y="753" width="3" height="8" fill="#ffa07a"/>
<rect x="138" y="753" width="3" height="1" fill="#ffa07a"/>
<rect x="142" y="753" width="3" height="13" fill="#ffa07a"/>
<rect x="146" y="753" width="3" height="21" fill="#ffa07a"/>
<rect x="150" y="753" width="3" height="23" fill="#ffa07a"/>
<rect x="154" y="753" width="3" height="26" fill="#ffa07a"/>
<rect x="158" y="753" width="3" height="15" fill="#ffa07a"/>
<rect x="162" y="753" width="3" height="5" fill="#ffa07a"/>
<rect x="166" y="753" width="3" height="1" fill="#1e90ff"/>
<rect x="170" y="747" width="3" height="7" fill="#1e90ff"/>
<rect x="174" y="745" width="3" height="9" fill="#1e90ff"/>
<rect x="178" y="740" width="3" height="14" fill="#1e90ff"/>
<rect x="182" y="737" width="3" height="17" fill="#1e90ff"/>
<rect x="186" y="734" width="3" height="20" fill="#1e90ff"/>
<rect x="190" y="739" width="3" height="15" fill="#1e90ff"/>
<rect x="194" y="741" width="3" height="13" fill="#1e90ff"/>
<rect x="198" y="751" width="3" height="3" fill="#1e90ff"/>
<rect x="202" y="750" width="3" height="4" fill="#1e90ff"/>
<rect x="206" y="749" width="3" height="5" fill="#1e90ff"/>
<rect x="210" y="749" width="3" height="5" fill="#1e90ff"/>
<rect x="214" y="753" width="3" height="22" fill="#ffa07a"/>
<rect x="218" y="753" width="3" height="43" fill="#ffa07a"/>
<rect x="222" y="753" width="3" height="48" fill="#ffa07a"/>
<rect x="226" y="753" width="3" height="47" fill="#ffa07a"/>
<rect x="230" y="753" width="3" height="1" fill="#ffa07a"/>
<rect x="234" y="748" width="3" height="6" fill="#1e90ff"/>
<rect x="238" y="734" width="3" height="20" fill="#1e90ff"/>
<rect x="242" y="726" width="3" height="28" fill="#1e90ff"/>
<rect x="246" y="728" width="3" height="26" fill="#1e90ff"/>
<rect x="250" y="743" width="3" height="11" fill="#1e90ff"/>
<rect x="254" y="745" width="3" height="9" fill="#1e90ff"/>
<rect x="258" y="751" width="3" height="3" fill="#1e90ff"/>
<rect x="262" y="745" width="3" height="9" fill="#1e90ff"/>
<rect x="266" y="738" width="3" height="16" fill="#1e90ff"/>
<rect x="270" y="735" width="3" height="19" fill="#1e90ff"/>
<rect x="274" y="737" width="3" height="17" fill="#1e90ff"/>
<rect x="278" y="740" width="3" height="14" fill="#1e90ff"/>
<rect x="282" y="744" width="3" height="10" fill="#1e90ff"/>
<rect x="286" y="747" width="3" height="7" fill="#1e90ff"/>
<rect x="290" y="748" width="3" height="6" fill="#1e90ff"/>
<rect x="294" y="753" width="3" height="8" fill="#ffa07a"/>
<rect x="298" y="753" width="3" height="20" fill="#ffa07a"/>
<rect x="302" y="753" width="3" height="20" fill="#ffa07a"/>
<rect x="306" y="753" width="3" height="19" fill="#ffa07a"/>
<rect x="310" y="753" width="3" height="12" fill="#ffa07a"/>
<rect x="314" y="753" width="3" height="6" fill="#ffa07a"/>
<rect x="318" y="741" width="3" height="13" fill="#1e90ff"/>
<rect x="322" y="735" width="3" height="19" fill="#1e90ff"/>
<rect x="326" y="739" width="3" height="15" fill="#1e90ff"/>
<rect x="330" y="745" width="3" height="9" fill="#1e90ff"/>
<rect x="334" y="750" width="3" height="4" fill="#1e90ff"/>
<rect x="338" y="753" width="3" height="2" fill="#ffa07a"/>
<rect x="342" y="753" width="3" height="7" fill="#ffa07a"/>
<rect x="346" y="753" width="3" height="13" fill="#ffa07a"/>
<rect x="350" y="753" width="3" height="14" fill="#ffa07a"/>
<rect x="354" y="753" width="3" height="18" fill="#ffa07a"/>
<rect x="358" y="753" width="3" height="9" fill="#ffa07a"/>
<rect x="362" y="753" width="3" height="4" fill="#ffa07a"/>
<rect x="366" y="753" width="3" height="2" fill="#ffa07a"/>
<rect x="370" y="753" width="3" height="1" fill="#1e90ff"/>
<rect x="374" y="751" width="3" height="3" fill="#1e90ff"/>
<rect x="378" y="748" width="3" height="6" fill="#1e90ff"/>
<rect x="382" y="749" width="3" height="5" fill="#1e90ff"/>
<rect x="386" y="753" width="3" height="1" fill="#1e90ff"/>
<rect x="390" y="750" width="3" height="4" fill="#1e90ff"/>
<rect x="394" y="753" width="3" height="1" fill="#1e90ff"/>
<rect x="398" y="752" width="3" height="2" fill="#1e90ff"/>
<rect x="402" y="753" width="3" height="4" fill="#ffa07a"/>
<rect x="406" y="753" width="3" height="4" fill="#ffa07a"/>
<rect x="410" y="753" width="3" height="6" fill="#ffa07a"/>
<rect x="414" y="753" width="3" height="3" fill="#ffa07a"/>
<rect x="418" y="753" width="3" height="5" fill="#ffa07a"/>
<rect x="422" y="753" width="3" height="3" fill="#ffa07a"/>
<rect x="426" y="749" width="3" height="5" fill="#1e90ff"/>
<rect x="430" y="747" width="3" height="7" fill="#1e90ff"/>
<rect x="434" y="749" width="3" height="5" fill="#1e90ff"/>
<rect x="438" y="749" width="3" height="5" fill="#1e90ff"/>
<rect x="442" y="751" width="3" height="3" fill="#1e90ff"/>
<rect x="446" y="752" width="3" height="2" fill="#1e90ff"/>
<rect x="450" y="748" width="3" height="6" fill="#1e90ff"/>
<rect x="454" y="745" width="3" height="9" fill="#1e90ff"/>
<rect x="458" y="741" width="3" height="13" fill="#1e90ff"/>
<rect x="462" y="742" width="3" height="12" fill="#1e90ff"/>
<rect x="466" y="751" width="3" height="3" fill="#1e90ff"/>
<rect x="470" y="753" width="3" height="1" fill="#ffa07a"/>
<rect x="474" y="753" width="3" height="2" fill="#ffa07a"/>
<rect x="478" y="753" width="3" height="1" fill="#ffa07a"/>
<rect x="482" y="753" width="3" height="3" fill="#ffa07a"/>
<rect x="486" y="753" width="3" height="8" fill="#ffa07a"/>
<rect x="490" y="753" width="3" height="8" fill="#ffa07a"/>
<rect x="494" y="753" width="3" height="5" fill="#ffa07a"/>
<rect x="498" y="753" width="3" height="4" fill="#ffa07a"/>
<rect x="502" y="753" width="3" height="2" fill="#ffa07a"/>
<rect x="506" y="753" width="3" height="1" fill="#1e90ff"/>
<rect x="510" y="751" width="3" height="3" fill="#1e90ff"/>
<rect x="514" y="752" width="3" height="2" fill="#1e90ff"/>
<rect x="518" y="753" width="3" height="1" fill="#1e90ff"/>
<rect x="522" y="753" width="3" height="1" fill="#ffa07a"/>
<rect x="526" y="753" width="3" height="2" fill="#ffa07a"/>
<rect x="530" y="753" width="3" height="6" fill="#ffa07a"/>
<rect x="534" y="753" width="3" height="10" fill="#ffa07a"/>
<rect x="538" y="753" width="3" height="7" fill="#ffa07a"/>
<rect x="542" y="753" width="3" height="14" fill="#ffa07a"/>
<rect x="546" y="753" width="3" height="12" fill="#ffa07a"/>
<rect x="550" y="753" width="3" height="9" fill="#ffa07a"/>
<rect x="554" y="749" width="3" height="5" fill="#1e90ff"/>
<rect x="558" y="734" width="3" height="20" fill="#1e90ff"/>
<rect x="562" y="722" width="3" height="32" fill="#1e90ff"/>
<rect x="566" y="731" width="3" height="23" fill="#1e90ff"/>
<rect x="570" y="736" width="3" height="18" fill="#1e90ff"/>
<rect x="574" y="738" width="3" height="16" fill="#1e90ff"/>
<rect x="578" y="745" width="3" height="9" fill="#1e90ff"/>
<rect x="582" y="753" width="3" height="1" fill="#1e90ff"/>
<rect x="586" y="753" width="3" height="5" fill="#ffa07a"/>
<rect x="590" y="753" width="3" height="8" fill="#ffa07a"/>
<rect x="594" y="753" width="3" height="15" fill="#ffa07a"/>
<rect x="598" y="753" width="3" height="16" fill="#ffa07a"/>
<rect x="602" y="753" width="3" height="11" fill="#ffa07a"/>
<rect x="606" y="753" width="3" height="9" fill="#ffa07a"/>
<rect x="610" y="753" width="3" height="4" fill="#ffa07a"/>
<rect x="614" y="753" width="3" height="1" fill="#ffa07a"/>
<rect x="618" y="753" width="3" height="1" fill="#1e90ff"/>
<rect x="622" y="753" width="3" height="1" fill="#1e90ff"/>
<rect x="626" y="747" width="3" height="7" fill="#1e90ff"/>
<rect x="630" y="748" width="3" height="6" fill="#1e90ff"/>
<rect x="634" y="749" width="3" height="5" fill="#1e90ff"/>
<rect x="638" y="752" width="3" height="2" fill="#1e90ff"/>
<rect x="642" y="753" width="3" height="2" fill="#ffa07a"/>
<rect x="646" y="753" width="3" height="10" fill="#ffa07a"/>
<rect x="650" y="753" width="3" height="19" fill="#ffa07a"/>
<rect x="654" y="753" width="3" height="16" fill="#ffa07a"/>
<rect x="658" y="753" width="3" height="6" fill="#ffa07a"/>
<rect x="662" y="753" width="3" height="1" fill="#1e90ff"/>
<rect x="666" y="749" width="3" height="5" fill="#1e90ff"/>
<rect x="670" y="748" width="3" height="6" fill="#1e90ff"/>
<rect x="674" y="751" width="3" height="3" fill="#1e90ff"/>
<rect x="678" y="744" width="3" height="10" fill="#1e90ff"/>
<rect x="682" y="731" width="3" height="23" fill="#1e90ff"/>
<rect x="686" y="736" width="3" height="18" fill="#1e90ff"/>
<rect x="690" y="746" width="3" height="8" fill="#1e90ff"/>
<rect x="694" y="748" width="3" height="6" fill="#1e90ff"/>
<rect x="698" y="752" width="3" height="2" fill="#1e90ff"/>
<rect x="702" y="753" width="3" height="4" fill="#ffa07a"/>
<rect x="706" y="753" width="3" height="7" fill="#ffa07a"/>
<rect x="710" y="753" width="3" height="7" fill="#ffa07a"/>
<rect x="714" y="753" width="3" height="4" fill="#ffa07a"/>
<rect x="718" y="753" width="3" height="4" fill="#ffa07a"/>
<rect x="722" y="753" width="3" height="6" fill="#ffa07a"/>
<rect x="726" y="753" width="3" height="8" fill="#ffa07a"/>
<rect x="730" y="753" width="3" height="5" fill="#ffa07a"/>
<rect x="734" y="753" width="3" height="9" fill="#ffa07a"/>
<rect x="738" y="753" width="3" height="24" fill="#ffa07a"/>
<rect x="742" y="753" width="3" height="18" fill="#ffa07a"/>
<rect x="746" y="753" width="3" height="12" fill="#ffa07a"/>
<rect x="750" y="753" width="3" height="5" fill="#ffa07a"/>
<rect x="754" y="753" width="3" height="5" fill="#ffa07a"/>
<rect x="758" y="750" width="3" height="4" fill="#1e90ff"/>
<rect x="762" y="736" width="3" height="18" fill="#1e90ff"/>
<rect x="766" y="735" width="3" height="19" fill="#1e90ff"/>
<rect x="770" y="745" width="3" height="9" fill="#1e90ff"/>
<rect x="774" y="750" width="3" height="4" fill="#1e90ff"/>
<rect x="778" y="749" width="3" height="5" fill="#1e90ff"/>
<rect x="782" y="743" width="3" height="11" fill="#1e90ff"/>
<rect x="786" y="745" width="3" height="9" fill="#1e90ff"/>
<rect x="790" y="748" width="3" height="6" fill="#1e90ff"/>
<rect x="794" y="736" width="3" height="18" fill="#1e90ff"/>
<rect x="798" y="753" width="3" height="1" fill="#1e90ff"/>
<rect x="802" y="753" width="3" height="9" fill="#ffa07a"/>
<rect x="806" y="753" width="3" height="9" fill="#ffa07a"/>
<rect x="810" y="753" width="3" height="9" fill="#ffa07a"/>
<rect x="814" y="753" width="3" height="8" fill="#ffa07a"/>
<rect x="818" y="753" width="3" height="10" fill="#ffa07a"/>
<rect x="822" y="753" width="3" height="9" fill="#ffa07a"/>
<rect x="826" y="753" width="3" height="1" fill="#1e90ff"/>
<rect x="830" y="753" width="3" height="1" fill="#1e90ff"/>
<rect x="834" y="753" width="3" height="2" fill="#ffa07a"/>
<rect x="838" y="753" width="3" height="3" fill="#ffa07a"/>
<rect x="842" y="753" width="3" height="10" fill="#ffa07a"/>
<rect x="846" y="753" width="3" height="12" fill="#ffa07a"/>
<rect x="850" y="753" width="3" height="8" fill="#ffa07a"/>
<rect x="854" y="753" width="3" height="9" fill="#ffa07a"/>
<rect x="858" y="753" width="3" height="1" fill="#1e90ff"/>
<rect x="862" y="746" width="3" height="8" fill="#1e90ff"/>
<rect x="866" y="744" width="3" height="10" fill="#1e90ff"/>
<rect x="870" y="745" width="3" height="9" fill="#1e90ff"/>
<rect x="874" y="747" width="3" height="7" fill="#1e90ff"/>
<rect x="878" y="744" width="3" height="10" fill="#1e90ff"/>
<rect x="882" y="743" width="3" height="11" fill="#1e90ff"/>
<rect x="886" y="749" width="3" height="5" fill="#1e90ff"/>
<rect x="890" y="753" width="3" height="4" fill="#ffa07a"/>
<rect x="894" y="753" width="3" height="8" fill="#ffa07a"/>
<rect x="898" y="753" width="3" height="12" fill="#ffa07a"/>
<rect x="902" y="753" width="3" height="12" fill="#ffa07a"/>
<rect x="906" y="753" width="3" height="8" fill="#ffa07a"/>
<rect x="910" y="753" width="3" height="7" fill="#ffa07a"/>
<rect x="914" y="753" width="3" height="5" fill="#ffa07a"/>
<rect x="918" y="753" width="3" height="7" fill="#ffa07a"/>
<rect x="922" y="753" width="3" height="8" fill="#ffa07a"/>
<rect x="926" y="753" width="3" height="6" fill="#ffa07a"/>
<rect x="930" y="753" width="3" height="7" fill="#ffa07a"/>
<rect x="934" y="753" width="3" height="4" fill="#ffa07a"/>
<rect x="938" y="753" width="3" height="3" fill="#ffa07a"/>
<rect x="942" y="753" width="3" height="2" fill="#ffa07a"/>
<rect x="946" y="752" width="3" height="2" fill="#1e90ff"/>
<rect x="950" y="751" width="3" height="3" fill="#1e90ff"/>
<rect x="954" y="752" width="3" height="2" fill="#1e90ff"/>
<rect x="958" y="753" width="3" height="1" fill="#1e90ff"/>
<rect x="962" y="753" width="3" height="1" fill="#1e90ff"/>
<rect x="966" y="753" width="3" height="2" fill="#ffa07a"/>
<rect x="970" y="753" width="3" height="6" fill="#ffa07a"/>
<rect x="974" y="753" width="3" height="12" fill="#ffa07a"/>
<rect x="978" y="753" width="3" height="11" fill="#ffa07a"/>
<rect x="982" y="753" width="3" height="11" fill="#ffa07a"/>
<rect x="986" y="753" width="3" height="7" fill="#ffa07a"/>
<rect x="990" y="753" width="3" height="3" fill="#ffa07a"/>
<rect x="994" y="752" width="3" height="2" fill="#1e90ff"/>
<rect x="998" y="752" width="3" height="2" fill="#1e90ff"/>
<rect x="1002" y="751" width="3" height="3" fill="#1e90ff"/>
<rect x="1006" y="753" width="3" height="2" fill="#ffa07a"/>
<rect x="1010" y="753" width="3" height="12" fill="#ffa07a"/>
<rect x="1014" y="753" width="3" height="10" fill="#ffa07a"/>
<rect x="1018" y="753" width="3" height="5" fill="#ffa07a"/>
<rect x="1022" y="753" width="3" height="2" fill="#ffa07a"/>
<rect x="1026" y="743" width="3" height="11" fill="#1e90ff"/>
<rect x="1030" y="734" width="3" height="20" fill="#1e90ff"/>
<rect x="1034" y="739" width="3" height="15" fill="#1e90ff"/>
<rect x="1038" y="737" width="3" height="17" fill="#1e90ff"/>
<rect x="1042" y="738" width="3" height="16" fill="#1e90ff"/>
<rect x="1046" y="738" width="3" height="16" fill="#1e90ff"/>
<rect x="1050" y="734" width="3" height="20" fill="#1e90ff"/>
<rect x="1054" y="737" width="3" height="17" fill="#1e90ff"/>
<rect x="1058" y="740" width="3" height="14" fill="#1e90ff"/>
<rect x="1062" y="746" width="3" height="8" fill="#1e90ff"/>
<rect x="1066" y="751" width="3" height="3" fill="#1e90ff"/>
<rect x="1070" y="753" width="3" height="6" fill="#ffa07a"/>
<rect x="1074" y="753" width="3" height="4" fill="#ffa07a"/>
<rect x="1078" y="753" width="3" height="5" fill="#ffa07a"/>
</g>
<polyline points="-0.5,779.6 3.5,779.6 7.5,780.2 11.5,785.5 15.5,786.3 19.5,785.5 23.5,784.3 27.5,776.2 31.5,763.4 35.5,754.7 39.5,750.7 43.5,749.8 47.5,755.8 51.5,755.4 55.5,755.2 59.5,754.4 63.5,758.6 67.5,761.0 71.5,757.8 75.5,752.3 79.5,745.1 83.5,738.6 87.5,735.3 91.5,734.2 95.5,733.1 99.5,733.9 103.5,733.7 107.5,734.7 111.5,741.7 115.5,749.0 119.5,749.9 123.5,753.6 127.5,755.7 131.5,758.8 135.5,761.0 139.5,758.7 143.5,766.7 147.5,776.5 151.5,784.6 155.5,794.1 159.5,795.1 163.5,793.5 167.5,791.6 171.5,786.8 175.5,783.3 179.5,776.5 183.5,769.8 187.5,762.0 191.5,758.7 195.5,754.5 199.5,757.1 203.5,755.0 207.5,752.7 211.5,750.6 215.5,767.1 219.5,788.4 223.5,805.5 227.5,820.7 231.5,805.8 235.5,800.9 239.5,789.7 243.5,777.7 247.5,769.6 251.5,770.6 255.5,768.3 259.5,769.0 263.5,763.5 267.5,756.0 271.5,748.1 275.5,742.9 279.5,739.3 283.5,736.9 287.5,735.2 291.5,733.8 295.5,740.9 299.5,751.0 303.5,757.5 307.5,763.2 311.5,765.0 315.5,765.0 319.5,754.1 323.5,745.7 327.5,741.7 331.5,740.6 335.5,740.5 339.5,743.0 343.5,746.6 347.5,753.1 351.5,757.5 355.5,765.0 359.5,765.0 363.5,764.4 367.5,764.0 371.5,762.7 375.5,760.6 379.5,757.7 383.5,756.5 387.5,756.9 391.5,754.4 395.5,754.9 399.5,754.1 403.5,756.8 407.5,758.0 411.5,760.9 415.5,760.4 419.5,762.4 423.5,762.5 427.5,758.3 431.5,755.3 435.5,754.2 439.5,752.3 443.5,751.9 447.5,751.4 451.5,748.2 455.5,744.2 459.5,738.3 463.5,734.5 467.5,736.1 471.5,737.9 475.5,738.5 479.5,738.5 483.5,740.2 487.5,744.1 491.5,746.4 495.5,747.1 499.5,747.6 503.5,747.5 507.5,746.8 511.5,744.7 515.5,744.4 519.5,744.7 523.5,745.0 527.5,745.7 531.5,748.7 535.5,753.5 539.5,754.6 543.5,761.5 547.5,764.6 551.5,766.5 555.5,760.0 559.5,748.5 563.5,733.8 567.5,728.5 571.5,723.9 575.5,719.3 579.5,718.6 583.5,720.9 587.5,724.0 591.5,727.5 595.5,734.7 599.5,740.6 603.5,742.3 607.5,744.3 611.5,744.1 615.5,742.9 619.5,741.7 623.5,741.7 627.5,737.3 631.5,735.2 635.5,733.5 639.5,733.5 643.5,735.6 647.5,741.6 651.5,751.0 655.5,754.7 659.5,753.3 663.5,750.4 667.5,747.5 671.5,744.9 675.5,744.8 679.5,739.0 683.5,726.8 687.5,722.6 691.5,723.0 695.5,721.2 699.5,722.1 703.5,725.4 707.5,728.1 711.5,730.4 715.5,730.8 719.5,731.7 723.5,734.5 727.5,737.2 731.5,737.9 735.5,742.4 739.5,754.8 743.5,758.8 747.5,760.6 751.5,760.0 755.5,761.2 759.5,757.0 763.5,746.2 767.5,739.6 771.5,739.8 775.5,740.0 779.5,737.7 783.5,732.1 787.5,729.8 791.5,728.4 795.5,718.3 799.5,723.8 803.5,729.9 807.5,732.9 811.5,735.9 815.5,738.1 819.5,742.0 823.5,744.2 827.5,740.8 831.5,740.9 835.5,741.9 839.5,743.3 843.5,748.8 847.5,753.0 851.5,754.0 855.5,757.3 859.5,754.4 863.5,748.5 867.5,744.7 871.5,741.7 875.5,739.7 879.5,735.4 883.5,731.1 887.5,731.1 891.5,735.4 895.5,739.5 899.5,744.3 903.5,748.0 907.5,749.2 911.5,751.1 915.5,752.0 919.5,755.0 923.5,757.7 927.5,759.2 931.5,761.4 935.5,761.7 939.5,761.9 943.5,761.9 947.5,760.1 951.5,758.3 955.5,757.8 959.5,757.5 963.5,757.5 967.5,758.6 971.5,761.9 975.5,767.6 979.5,771.0 983.5,774.1 987.5,775.1 991.5,774.4 995.5,772.2 999.5,771.2 1003.5,770.0 1007.5,772.0 1011.5,778.9 1015.5,781.7 1019.5,781.6 1023.5,780.7 1027.5,772.5 1031.5,762.7 1035.5,759.4 1039.5,752.6 1043.5,747.4 1047.5,741.8 1051.5,733.9 1055.5,728.7 1059.5,725.2 1063.5,724.2 1067.5,724.8 1071.5,729.3 1075.5,729.8 1079.5,731.6" fill="none" stroke="#0000cd" stroke-width="2" />
<polyline points="-0.5,777.0 3.5,777.0 7.5,778.6 11.5,782.1 15.5,784.2 19.5,784.9 23.5,784.6 27.5,780.4 31.5,771.9 35.5,763.3 39.5,757.0 43.5,753.4 47.5,754.6 51.5,755.0 55.5,755.1 59.5,754.7 63.5,756.7 67.5,758.8 71.5,758.3 75.5,755.3 79.5,750.2 83.5,744.4 87.5,739.9 91.5,737.0 95.5,735.1 99.5,734.5 103.5,734.1 107.5,734.4 111.5,738.1 115.5,743.5 119.5,746.7 123.5,750.2 127.5,752.9 131.5,755.9 135.5,758.4 139.5,758.6 143.5,762.6 147.5,769.6 151.5,777.1 155.5,785.6 159.5,790.3 163.5,791.9 167.5,791.8 171.5,789.3 175.5,786.3 179.5,781.4 183.5,775.6 187.5,768.8 191.5,763.7 195.5,759.1 199.5,758.1 203.5,756.6 207.5,754.6 211.5,752.6 215.5,759.9 219.5,774.1 223.5,789.8 227.5,805.3 231.5,805.5 235.5,803.2 239.5,796.5 243.5,787.1 247.5,778.4 251.5,774.5 255.5,771.4 259.5,770.2 263.5,766.9 267.5,761.4 271.5,754.8 275.5,748.9 279.5,744.1 283.5,740.5 287.5,737.8 291.5,735.8 295.5,738.3 299.5,744.7 303.5,751.1 307.5,757.1 311.5,761.1 315.5,763.0 319.5,758.6 323.5,752.2 327.5,746.9 331.5,743.7 335.5,742.1 339.5,742.5 343.5,744.6 347.5,748.8 351.5,753.2 355.5,759.1 359.5,762.1 363.5,763.2 367.5,763.6 371.5,763.1 375.5,761.9 379.5,759.8 383.5,758.1 387.5,757.5 391.5,755.9 395.5,755.4 399.5,754.8 403.5,755.8 407.5,756.9 411.5,758.9 415.5,759.7 419.5,761.0 423.5,761.8 427.5,760.0 431.5,757.7 435.5,755.9 439.5,754.1 443.5,753.0 447.5,752.2 451.5,750.2 455.5,747.2 459.5,742.8 463.5,738.6 467.5,737.4 471.5,737.6 475.5,738.1 479.5,738.3 483.5,739.2 487.5,741.7 491.5,744.0 495.5,745.6 499.5,746.6 503.5,747.1 507.5,746.9 511.5,745.8 515.5,745.1 519.5,744.9 523.5,744.9 527.5,745.3 531.5,747.0 535.5,750.2 539.5,752.4 543.5,756.9 547.5,760.8 551.5,763.7 555.5,761.8 559.5,755.1 563.5,744.5 567.5,736.5 571.5,730.2 575.5,724.8 579.5,721.7 583.5,721.3 587.5,722.6 591.5,725.1 595.5,729.9 599.5,735.2 603.5,738.7 607.5,741.5 611.5,742.8 615.5,742.8 619.5,742.3 623.5,742.0 627.5,739.6 631.5,737.4 635.5,735.5 639.5,734.5 643.5,735.0 647.5,738.3 651.5,744.7 655.5,749.7 659.5,751.5 663.5,751.0 667.5,749.2 671.5,747.1 675.5,745.9 679.5,742.4 683.5,734.6 687.5,728.6 691.5,725.8 695.5,723.5 699.5,722.8 703.5,724.1 707.5,726.1 711.5,728.3 715.5,729.5 719.5,730.6 723.5,732.6 727.5,734.9 731.5,736.4 735.5,739.4 739.5,747.1 743.5,753.0 747.5,756.8 751.5,758.4 755.5,759.8 759.5,758.4 763.5,752.3 767.5,746.0 771.5,742.9 775.5,741.4 779.5,739.5 783.5,735.8 787.5,732.8 791.5,730.6 795.5,724.4 799.5,724.1 803.5,727.0 807.5,729.9 811.5,732.9 815.5,735.5 819.5,738.8 823.5,741.5 827.5,741.1 831.5,741.0 835.5,741.4 839.5,742.4 843.5,745.6 847.5,749.3 851.5,751.6 855.5,754.5 859.5,754.5 863.5,751.5 867.5,748.1 871.5,744.9 875.5,742.3 879.5,738.8 883.5,734.9 887.5,733.0 891.5,734.2 895.5,736.9 899.5,740.6 903.5,744.3 907.5,746.8 911.5,748.9 915.5,750.5 919.5,752.7 923.5,755.2 927.5,757.2 931.5,759.3 935.5,760.5 939.5,761.2 943.5,761.5 947.5,760.8 951.5,759.6 955.5,758.7 959.5,758.1 963.5,757.8 967.5,758.2 971.5,760.0 975.5,763.8 979.5,767.4 983.5,770.8 987.5,772.9 991.5,773.7 995.5,772.9 999.5,772.1 1003.5,771.0 1007.5,771.5 1011.5,775.2 1015.5,778.5 1019.5,780.0 1023.5,780.4 1027.5,776.4 1031.5,769.6 1035.5,764.5 1039.5,758.5 1043.5,753.0 1047.5,747.4 1051.5,740.6 1055.5,734.7 1059.5,729.9 1063.5,727.0 1067.5,725.9 1071.5,727.6 1075.5,728.7 1079.5,730.2" fill="none" stroke="#ff8c00" stroke-width="2" />
</g>
<ellipse cx="1083.1" cy="743" rx="43.3" ry="36.3" fill="none" stroke="#f25555" stroke-width="2.1"/>
<g shape-rendering="crispEdges" fill="#000">
<rect x="1135" y="0" width="1" height="588"/>
<rect x="0" y="587" width="1136" height="1"/>
<rect x="0" y="589" width="1136" height="1"/>
<rect x="1135" y="589" width="1" height="119"/>
<rect x="0" y="707" width="1136" height="1"/>
<rect x="0" y="710" width="1136" height="1"/>
<rect x="1135" y="710" width="1" height="116"/>
<rect x="0" y="825" width="1137" height="1"/>
<rect x="1136" y="56" width="2" height="1"/>
<rect x="1136" y="89" width="2" height="1"/>
<rect x="1136" y="155" width="2" height="1"/>
<rect x="1136" y="188" width="2" height="1"/>
<rect x="1136" y="221" width="2" height="1"/>
<rect x="1136" y="254" width="2" height="1"/>
<rect x="1136" y="287" width="2" height="1"/>
<rect x="1136" y="320" width="2" height="1"/>
<rect x="1136" y="353" width="2" height="1"/>
<rect x="1136" y="386" width="2" height="1"/>
<rect x="1136" y="419" width="2" height="1"/>
<rect x="1136" y="452" width="2" height="1"/>
<rect x="1136" y="485" width="2" height="1"/>
<rect x="1136" y="518" width="2" height="1"/>
<rect x="1136" y="551" width="2" height="1"/>
<rect x="1136" y="584" width="2" height="1"/>
<rect x="1136" y="122" width="2" height="1"/>
<rect x="1136" y="23" width="2" height="1"/>
<rect x="1136" y="591" width="1" height="1"/>
<rect x="1136" y="707" width="1" height="1"/>
<rect x="1136" y="712" width="1" height="1"/>
<rect x="1136" y="753" width="1" height="1"/>
<rect x="31" y="826" width="1" height="3"/>
<rect x="95" y="826" width="1" height="3"/>
<rect x="159" y="826" width="1" height="3"/>
<rect x="223" y="826" width="1" height="3"/>
<rect x="287" y="826" width="1" height="3"/>
<rect x="351" y="826" width="1" height="3"/>
<rect x="415" y="826" width="1" height="3"/>
<rect x="479" y="826" width="1" height="3"/>
<rect x="543" y="826" width="1" height="3"/>
<rect x="607" y="826" width="1" height="3"/>
<rect x="671" y="826" width="1" height="3"/>
<rect x="735" y="826" width="1" height="3"/>
<rect x="799" y="826" width="1" height="3"/>
<rect x="863" y="826" width="1" height="3"/>
<rect x="927" y="826" width="1" height="3"/>
<rect x="991" y="826" width="1" height="3"/>
<rect x="1055" y="826" width="1" height="3"/>
</g>
<rect x="1135" y="13" width="1" height="2" fill="#ff0000"/>
<rect x="1135" y="134" width="1" height="2" fill="#ff0000"/>
<rect x="1177" y="0" width="1" height="844" fill="#f6f6f6"/>
<text x="1141" y="60" fill="#000" stroke="#000" text-anchor="start">279.90</text>
<text x="1141" y="93" fill="#000" stroke="#000" text-anchor="start">272.50</text>
<text x="1141" y="159" fill="#000" stroke="#000" text-anchor="start">257.50</text>
<text x="1141" y="192" fill="#000" stroke="#000" text-anchor="start">250.10</text>
<text x="1141" y="225" fill="#000" stroke="#000" text-anchor="start">242.70</text>
<text x="1141" y="258" fill="#000" stroke="#000" text-anchor="start">235.10</text>
<text x="1141" y="291" fill="#000" stroke="#000" text-anchor="start">227.70</text>
<text x="1141" y="324" fill="#000" stroke="#000" text-anchor="start">220.30</text>
<text x="1141" y="357" fill="#000" stroke="#000" text-anchor="start">212.90</text>
<text x="1141" y="390" fill="#000" stroke="#000" text-anchor="start">205.30</text>
<text x="1141" y="423" fill="#000" stroke="#000" text-anchor="start">197.90</text>
<text x="1141" y="456" fill="#000" stroke="#000" text-anchor="start">190.50</text>
<text x="1141" y="489" fill="#000" stroke="#000" text-anchor="start">183.10</text>
<text x="1141" y="522" fill="#000" stroke="#000" text-anchor="start">175.50</text>
<text x="1141" y="555" fill="#000" stroke="#000" text-anchor="start">168.10</text>
<text x="1141" y="588" fill="#000" stroke="#000" text-anchor="start">160.70</text>
<rect x="1137" y="8" width="36" height="11" fill="#ff0000" shape-rendering="crispEdges"/>
<text x="1141" y="17" fill="#fff" stroke="#fff" text-anchor="start">289.50</text>
<rect x="1137" y="19" width="36" height="11" fill="#ff0000" shape-rendering="crispEdges"/>
<text x="1141" y="28" fill="#fff" stroke="#fff" text-anchor="start">286.88</text>
<rect x="1137" y="70" width="36" height="11" fill="#000000" shape-rendering="crispEdges"/>
<text x="1141" y="79" fill="#fff" stroke="#fff" text-anchor="start">275.61</text>
<rect x="1137" y="115" width="36" height="11" fill="#ff0000" shape-rendering="crispEdges"/>
<text x="1141" y="124" fill="#fff" stroke="#fff" text-anchor="start">265.22</text>
<rect x="1137" y="129" width="36" height="11" fill="#ff0000" shape-rendering="crispEdges"/>
<text x="1141" y="138" fill="#fff" stroke="#fff" text-anchor="start">262.13</text>
<text x="1139.5" y="600" fill="#000" stroke="#000" text-anchor="start">100</text>
<text x="1138.2" y="653" fill="#000" stroke="#000" text-anchor="start">50</text>
<text x="1138.5" y="705" fill="#000" stroke="#000" text-anchor="start">0</text>
<rect x="1137" y="602" width="39" height="11" fill="#ff0000" shape-rendering="crispEdges"/>
<text x="1141" y="611" fill="#fff" stroke="#fff" text-anchor="start">85.0000</text>
<rect x="1137" y="620" width="39" height="11" fill="#ff0000" shape-rendering="crispEdges"/>
<text x="1141" y="629" fill="#fff" stroke="#fff" text-anchor="start">70.0000</text>
<rect x="1137" y="666" width="39" height="11" fill="#0000ff" shape-rendering="crispEdges"/>
<text x="1141" y="675" fill="#fff" stroke="#fff" text-anchor="start">30.0000</text>
<rect x="1137" y="684" width="39" height="11" fill="#0000ff" shape-rendering="crispEdges"/>
<text x="1141" y="693" fill="#fff" stroke="#fff" text-anchor="start">15.0000</text>
<text x="1138.6" y="721" fill="#000" stroke="#000" text-anchor="start">6.6182</text>
<text x="1138.9" y="757" fill="#000" stroke="#000" text-anchor="start">0.00</text>
<text x="1139.5" y="822.5" fill="#000" stroke="#000" text-anchor="start">-11.5276</text>
<text x="11.5" y="838" fill="#000" stroke="#000" text-anchor="end">2 Jan 2025</text>
<text x="30" y="838" fill="#000" stroke="#000" style="letter-spacing:-0.4px">28 Jan 2025</text>
<text x="94" y="838" fill="#000" stroke="#000" style="letter-spacing:-0.4px">20 Feb 2025</text>
<text x="158" y="838" fill="#000" stroke="#000" style="letter-spacing:-0.4px">14 Mar 2025</text>
<text x="222" y="838" fill="#000" stroke="#000" style="letter-spacing:-0.4px">7 Apr 2025</text>
<text x="286" y="838" fill="#000" stroke="#000" style="letter-spacing:-0.4px">30 Apr 2025</text>
<text x="350" y="838" fill="#000" stroke="#000" style="letter-spacing:-0.4px">22 May 2025</text>
<text x="414" y="838" fill="#000" stroke="#000" style="letter-spacing:-0.4px">16 Jun 2025</text>
<text x="478" y="838" fill="#000" stroke="#000" style="letter-spacing:-0.4px">10 Jul 2025</text>
<text x="542" y="838" fill="#000" stroke="#000" style="letter-spacing:-0.4px">1 Aug 2025</text>
<text x="606" y="838" fill="#000" stroke="#000" style="letter-spacing:-0.4px">25 Aug 2025</text>
<text x="670" y="838" fill="#000" stroke="#000" style="letter-spacing:-0.4px">17 Sep 2025</text>
<text x="734" y="838" fill="#000" stroke="#000" style="letter-spacing:-0.4px">9 Oct 2025</text>
<text x="798" y="838" fill="#000" stroke="#000" style="letter-spacing:-0.4px">31 Oct 2025</text>
<text x="862" y="838" fill="#000" stroke="#000" style="letter-spacing:-0.4px">24 Nov 2025</text>
<text x="926" y="838" fill="#000" stroke="#000" style="letter-spacing:-0.4px">17 Dec 2025</text>
<text x="990" y="838" fill="#000" stroke="#000" style="letter-spacing:-0.4px">12 Jan 2026</text>
<text x="1054" y="838" fill="#000" stroke="#000" style="letter-spacing:-0.4px">4 Feb 2026</text>
</svg>
</body></html>
